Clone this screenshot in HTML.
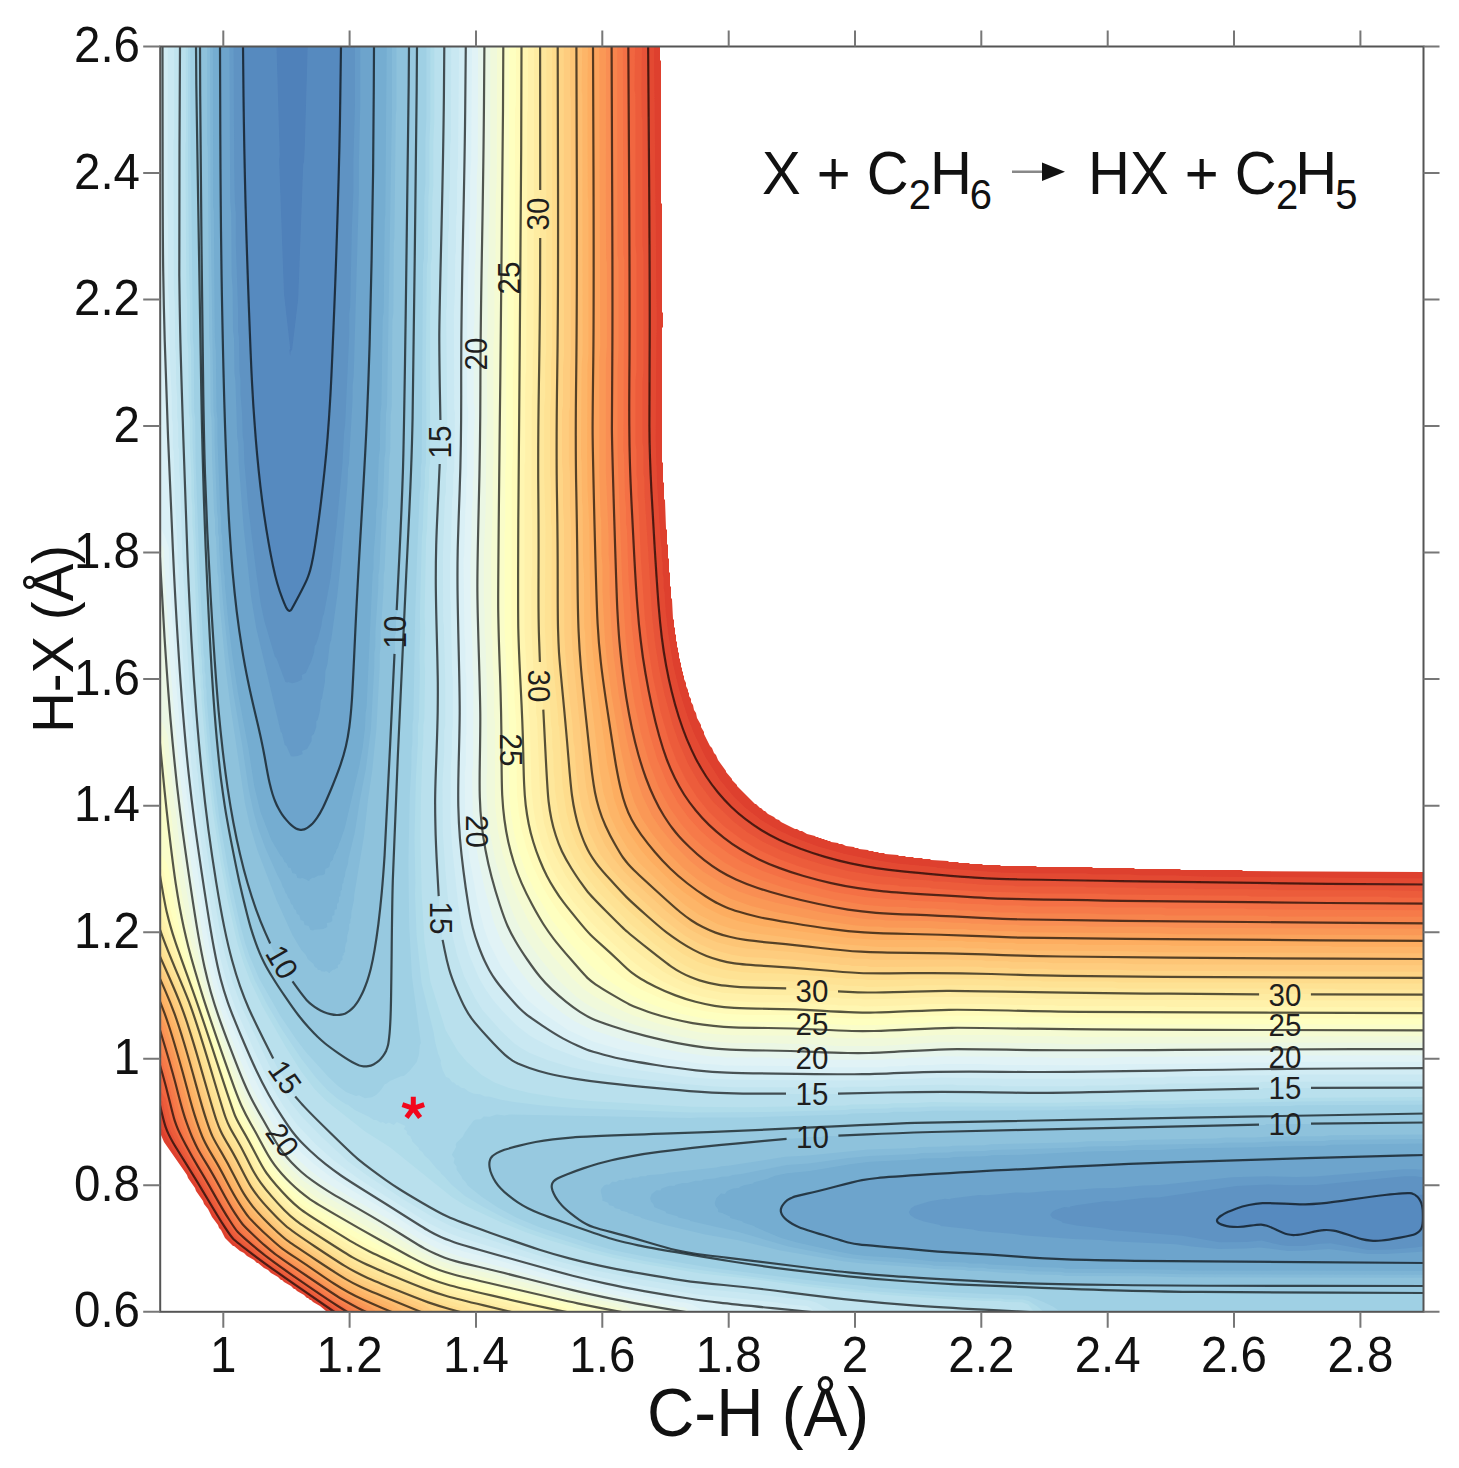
<!DOCTYPE html><html><head><meta charset="utf-8"><style>html,body{margin:0;padding:0;background:#fff;}svg{display:block;}text{font-family:"Liberation Sans",sans-serif;}</style></head><body>
<svg width="1459" height="1468" viewBox="0 0 1459 1468">
<rect width="1459" height="1468" fill="#fff"/>
<defs><clipPath id="pc"><rect x="160.2" y="46.5" width="1263.3" height="1265.3"/></clipPath></defs>
<filter id="bl" x="0" y="0" width="1" height="1"><feGaussianBlur stdDeviation="0.7"/></filter>
<g clip-path="url(#pc)"><g filter="url(#bl)">
<path fill="#416aaf" fill-rule="evenodd" d="M160 47H1426V1312H160z"/>
<path fill="#436fb1" fill-rule="evenodd" d="M161 47l1264 0l0 1264l-1265 0l0 -1264l1 0z"/>
<path fill="#4878b6" fill-rule="evenodd" d="M161 47l1264 0l0 1264l-1265 0l0 -1264l1 0z"/>
<path fill="#4f81ba" fill-rule="evenodd" d="M161 47l1264 0l0 1264l-1265 0l0 -1264l1 0z"/>
<path fill="#578abf" fill-rule="evenodd" d="M161 47l115.5 0l3.2 108l-0.6 5l4.9 134l6.2 55l-0.9 1l0.8 5.9l0.7 -4.9l1.3 -1l6.1 -51l5 -134l0.9 -4l0.7 -15l2.9 -99l1117.5 0l0 1264l-1265 0l0 -1264l1 0z"/>
<path fill="#5e93c3" fill-rule="evenodd" d="M161 47l82 0l0 64l1 1l0 56l1 1l0 39l1 1l0 34l1 1l0 30l1 1l0 28l1 1l0 26l1 1l0 23l1 1l0 20l1 1l0 17l1 1l0 15l1 1l0 14l1 1l0 12l1 1l0 11l1 1l0 10l1 1l0 9l1 1l0 8l1 1l0 8l1 1l1 15l1 1l0 6l1 1l0 6l1 1l0 6l1 1l0 5l1 1l1 11l1 1l0 4l1 1l0 5l1 1l0 4l1 1l0 4l1 1l0 3l1 1l0 4l1 1l0 3l1 1l1 7l1 1l0 2l1 1l2 8l2 3l0 2l5 9l2 0l3 -3l8 -17l2 -2l4 -8l0 -2l3 -6l0 -3l1 -1l0 -3l1 -1l0 -3l1 -1l0 -4l1 -1l0 -5l1 -1l0 -6l1 -1l0 -6l1 -1l0 -6l1 -1l0 -6l1 -1l0 -7l1 -1l0 -7l1 -1l0 -7l1 -1l0 -7l1 -1l0 -8l1 -1l0 -8l1 -1l0 -9l1 -1l1 -22l1 -1l0 -12l1 -1l0 -13l1 -1l0 -15l1 -1l0 -17l1 -1l0 -20l1 -1l0 -22l1 -1l0 -25l1 -1l0 -26l1 -1l1 -56l1 -1l0 -31l1 -1l0 -37l1 -1l0 -49l1 -1l0 -57l1084 0l0 1147.4l-7 0.6l-1 1l-5 -3l-13 0l-1 1l-9 0l-1 1l-8 0l-1 1l-6 0l-1 1l-14 1l-1 1l-12 1l-1 1l-6 0l-1 1l-6 0l-1 1l-8 0l-1 1l-16 0l-1 1l-2 0l-1 -1l-16 0l-1 -1l-28 0l-1 1l-5 0l-1 1l-3 0l-1 1l-3 0l-1 1l-8 2l-12 6l-4 4l0 3l2 2l4 1l1 1l4 0l1 1l17 0l1 -1l4 0l1 -1l6 0l1 -1l2 0l1 1l4 0l3 2l2 0l13 7l3 0l1 1l14 0l1 -1l3 0l1 -1l3 0l1 -1l3 0l1 -1l4 0l1 -1l14 0l4 2l3 0l1 1l5 1l3 2l2 0l1 1l2 0l4 2l8 1l1 1l16 0l1 -1l12 -1l1 -1l4 0l1 -1l9 -1l1 -1l4 -1l4 -4l4 0.2l0 80.8l-1265 0l0 -1264l1 0z"/>
<path fill="#659bc8" fill-rule="evenodd" d="M161 47l72.6 0l0.6 121l0.6 33l1 12l0 30l2.2 65l0 23l0.9 6l0.6 35l1 8l0 14l1.6 20l0.6 22l1 6l0.6 19l3.8 45l8.6 70l4.1 28l3.3 16l10.9 37l1.4 1l9 24l1.8 0.5l1 -0.5l4 1.3l4.8 -1.2l4.2 -2.2l1 -0.8l-0.4 -4l4 -2l5.4 -11.8l3 -9.2l0.4 -6l1.5 -2l2.1 -6l3.1 -12.2l1.3 -8.8l1.3 -3l6.7 -36l6.1 -53l5.8 -62l1.6 -31l1 -7l4.1 -90l0 -21l1 -8l1.6 -76l1.6 -38l0 -32l1.6 -56l0 -57l1070.4 0l0 1130.6l-10 -1.5l-11 0.1l-88 8.7l-25 0.3l-23 -0.8l-32 1.6l-78 11.4l-13 0.2l-32 3.8l-7 -0.4l-30 4.1l-6 1.3l-1 0.9l-5 -0.3l-9.1 3l-3.2 2l-1.9 3l2.3 3l9 3.5l1 1.2l14 2.7l27 3l10 1.8l69 5.5l37 6.5l27 -0.3l15 -1.4l19 4.5l8 1l15 -0l16 -2.3l11 -0.5l38 6.8l24 -0.5l23 -2.1l10 -1.8l0 65.3l-1265 0l0 -1264l1 0z"/>
<path fill="#6da4cc" fill-rule="evenodd" d="M161 47l68.4 0l0.8 155l1 12l0.4 61l1 14l0.4 42l1 7l0.4 35l1 8l1.8 56l1 6l0.5 20l4.8 63l7.6 71l5.1 31l24.6 104l1.1 1l2.8 12l1.7 1l4.5 10.2l2 0.3l5 -0.6l4.8 -1.9l-0.7 -3l5.1 -2l4.5 -8l0.1 -5l2.2 -2l2.4 -7l0 -6l1.4 -1l2.2 -9l1 -11l1 -1l3 -17l0.5 -11l2.1 -7l2.3 -20l1.4 -4l6 -44l3.7 -34l6.7 -80l0.4 -13l0.9 -5l3.7 -65l0.1 -14l1 -9l5.2 -183l0 -32l1.4 -57l0 -57l1064.6 0l0 1123l-9 -0.8l-13 0.1l-88 7.2l-19 0.5l-29 -0.8l-35 1.1l-72 7.8l-17 0.5l-28 2.4l-19 0.3l-24 1.9l-18 0.3l-26 2.2l-12 -0.2l-29 2.8l-8 -0.2l-28 3.4l-1 0.8l-5 -0.6l-15 2.5l-15 4.5l-3.6 2.3l-2.5 4l1.4 3l4.6 3.3l9 3.2l16 3.5l1 1l32 3.6l6 1.4l36 2.9l8 1.3l50 3.8l28 0.9l11 1.3l64 3l16 2.3l27 2.5l27 -0.5l14 -1l28 3.4l16 -0.1l25 -1.9l39 5.1l18 0l39 -2.6l0 59.4l-1265 0l0 -1264l1 0z"/>
<path fill="#74add1" fill-rule="evenodd" d="M161 47l59 0l0 160l1 1l0 81l1 1l0 48l1 1l0 38l1 1l0 33l1 1l0 29l1 1l0 27l1 1l0 23l1 1l0 20l1 1l0 17l1 1l0 14l1 1l0 12l1 1l1 22l1 1l0 9l1 1l0 8l1 1l1 16l1 1l0 6l1 1l1 13l1 1l1 12l1 1l1 10l1 1l0 4l1 1l0 5l1 1l0 3l1 1l0 4l1 1l0 4l1 1l0 3l1 1l0 4l1 1l0 3l1 1l0 3l1 1l0 3l1 1l0 3l1 1l0 3l1 1l0 3l1 1l0 3l1 1l0 3l1 1l0 4l1 1l0 3l1 1l1 10l1 1l0 4l1 1l1 12l1 1l0 4l1 1l0 4l1 1l0 4l1 1l1 7l1 1l2 8l2 3l0 2l2 4l2 2l1 3l2 2l0 1l5 5l0 1l1 0l5 5l4 2l6 0l4 -2l3 -3l1 0l0 -1l5 -5l0 -1l4 -5l4 -8l0 -2l4 -7l0 -2l2 -3l0 -2l3 -5l0 -2l4 -8l0 -2l1 -1l2 -8l2 -3l0 -3l2 -4l0 -3l1 -1l0 -3l1 -1l0 -4l1 -1l0 -5l1 -1l0 -5l1 -1l0 -8l1 -1l0 -11l1 -1l0 -15l1 -1l0 -19l1 -1l0 -23l1 -1l0 -23l1 -1l0 -19l1 -1l0 -17l1 -1l1 -33l1 -1l0 -15l1 -1l1 -30l1 -1l0 -16l1 -1l0 -16l1 -1l0 -17l1 -1l0 -20l1 -1l0 -22l1 -1l0 -26l1 -1l0 -30l1 -1l0 -37l1 -1l0 -43l1 -1l0 -52l1 -1l0 -75l1 -1l0 -92l1051 0l0 1108l-28 0l-1 1l-33 0l-1 1l-31 0l-1 1l-34 0l-1 1l-34 0l-1 1l-33 0l-1 1l-32 0l-1 1l-29 0l-1 1l-26 0l-1 1l-24 0l-1 1l-22 0l-1 1l-20 0l-1 1l-39 1l-1 1l-18 0l-1 1l-17 0l-1 1l-17 0l-1 1l-17 0l-1 1l-16 0l-1 1l-15 0l-1 1l-28 1l-1 1l-10 0l-1 1l-9 0l-1 1l-12 1l-1 1l-4 0l-1 1l-3 0l-1 1l-7 1l-4 2l-3 0l-1 1l-2 0l-4 2l-3 0l-1 1l-3 0l-1 1l-3 0l-1 1l-3 0l-1 1l-5 0l-1 1l-9 1l-1 1l-2 0l-6 3l-8.2 9l0.2 0.8l1 0.2l-1 1l1 1l0 3l1 2l9 8l6 3l2 0l3 2l3 0l1 1l2 0l4 2l3 0l1 1l2 0l1 1l2 0l1 1l2 0l1 1l2 0l1 1l2 0l1 1l2 0l4 2l3 0l4 2l8 1l1 1l5 0l1 1l8 0l1 1l13 0l1 1l12 0l1 1l19 1l1 1l18 1l1 1l13 0l1 1l21 0l1 1l19 0l1 1l13 0l1 1l24 1l1 1l14 0l1 1l21 0l1 1l38 0l1 1l76 0l1 1l177 0l1 1l65 0l0 48l-1265 0l0 -1264l1 0z"/>
<path fill="#7db4d5" fill-rule="evenodd" d="M161 47l51.8 0l0.4 160l0.6 4l1 127l1 13l0.7 60l1 8l0 22l2.7 70l1 7l0 14l0.9 4l1.7 36l0.9 4l0.1 8l3.4 37l3.9 32.9l5.7 38.1l10.7 57l5.9 38l6.1 25l10.8 28l9.5 16l1.5 1l2.2 5l1.9 1l1.9 4.6l2.3 0.4l1.8 5l3.7 1l1.3 4l2.9 0.5l2.2 -0.5l4.9 2l0.4 1l1.5 0l0.2 -1l2.8 -2.2l2 -0.1l4 -2.1l4 -0.4l2.5 -1.2l0.6 -5l3.9 -2l1.1 -5l2.4 -2l1.1 -5l1.7 -2l1.2 -4l1.2 -1l1.1 -5l0.9 -1l4.8 -14l14.5 -62l3.3 -18l2.4 -20l0.6 -15l1 -6l6 -133l0.9 -5l0 -12l2.6 -36l0.1 -11l0.9 -5l1.7 -48l1 -7l0.6 -37l1 -8l1.3 -86l1 -7l1 -92l0.6 -5l1.4 -168l1038.3 0l0 1096.4l-94 1.3l-6 1l-29 0l-40 1.6l-63 1l-34 1.6l-23 0l-11 0.9l-37 0.7l-66 3.2l-30 0.6l-7 1l-31 0.7l-5 0.9l-28 0.7l-5 0.9l-46 2.3l-20 2.4l-40 6.9l-23 2.1l-12 2.6l-8 3.1l-13 3.4l-1 1.2l-9 1.7l-4.2 1.7l-0.8 1.2l-6 0.3l-6 2.6l-2 2.9l-4 -0.4l-4.6 4.4l-1.7 5l0.7 3l2.7 3.4l0 2.6l4 1l8 3.6l0 1.4l12 3.4l1 1.3l11 3.4l1 1.1l26 10.8l16 4.5l38 8.7l17 3.2l14 1.6l34 2.2l35 3.5l30 1l4 0.9l15 0.1l5 0.9l36 1.7l5 0.9l31 0.7l5 1l111 1l5 0.6l243 0.6l0 39.7l-1265 0l0 -1264l1 0z"/>
<path fill="#85bbd9" fill-rule="evenodd" d="M161 47l49 -0l0.5 160l3 205l1 7l0 23l2.5 69l1 8l0 14l1 4l0 11l4.1 56l5 50l5.2 39l9 53l6.3 43l5.2 24l4.2 15l7.3 20l12 27l3.8 7l1.6 5l1.1 1l1.7 5l1.2 1l1.4 4l1.4 1l1.5 5l1.7 1l1.3 4l1.8 1l1.1 4l2.3 1l1.4 5l2.9 1l1.1 4l4.2 1l1.6 4l2.8 0.4l1 -0.7l9 -0.8l4.1 -1.9l-0.5 -4l3.4 -0.6l2.1 -1.4l-0.2 -5l2.3 -1l0.2 -5l2.4 -1l0 -5l1.8 -2l0.2 -5l1.4 -1l0.2 -5l1.3 -1l0.3 -6l1.1 -1l0.6 -5l1 -1l0.4 -5l2.6 -8l0.5 -5l6.3 -26l5.4 -34l5.9 -31l4.9 -39l3.4 -62l0.1 -14l0.9 -6l0.1 -15l2.9 -45l0.1 -12l1 -6l2.6 -58l0.9 -5l1.6 -48l1 -7l0.5 -37l1 -8l5 -297l0 -62l1033.5 0l0 1092l-95 1l-6 1l-53 0.5l-16 1l-29 0l-9 1l-81 1.5l-12 1l-36 0.5l-11 1l-86 2.5l-7 1l-30 0.5l-6 1l-27 0.5l-6 1l-46 2l-21 2.1l-40 5.4l-22 1.4l-45 9.1l-9 1l-4 1.5l-7 0.2l-7 1.9l-11 1l-2 1.2l-6 -0.1l-8 2.4l-5 -0.1l-7 1.7l-1 1.4l-5 -0.4l-3 1l-5 1.8l-1 2l-4 -0.3l-5 4l-1.3 4.1l0.7 3l2.5 2.9l1 3l11 4.2l1 1.8l11 3l1 1.3l11 2.5l1 1l49 11.2l49 14.3l56 11l21 2.6l64 4.6l5 1l30 1l5 1l14 0.1l5 0.9l36 1.6l5 1l31 0.5l5 1l79 0.5l38 1l243 0.5l0 36.5l-1265 0l0 -1264l1 0z"/>
<path fill="#8ec2dc" fill-rule="evenodd" d="M161 47l46.2 0l0 97l0.6 4l1.4 191l1 13l0.4 60l1 8l0.4 37l2 55l1 7l0.1 15l0.9 4l1.4 35l0.9 4l1.5 28l5.9 64l4.7 37l14.5 97l4.9 22l7.5 25l19.2 50l15.9 35l8.9 15l4.6 5l1.8 4l5.8 5l1.2 3l2.3 1l0.9 2l2.5 0l0.5 1.2l4 0.5l1 -0.6l2.3 0.9l0.4 1l1.3 0l0.2 -1l2.8 -2.2l2 -0.2l1 -1.2l2 -0.5l-0.1 -3l2.1 -0.8l0.8 -3.2l1.9 -1l-0.3 -4l1.4 -1l-0.1 -2l1.5 -1l-0.1 -4l0.7 -4l1.5 -3l0 -5l1.9 -7l0 -5l1.2 -1l0.1 -4l0.8 -1l0.2 -6l2.6 -12l0.2 -5l9.8 -59l4.1 -37l4.1 -28l4.2 -42l3.3 -62l0 -13l1 -7l0 -14l2.9 -45l0.1 -13l0.9 -5l2.4 -58l0.9 -5l1.4 -48l1 -8l0.4 -36l1 -8l0.7 -87l1 -7l0.4 -70l0.6 -5l1.4 -123l0.6 -5l0 -63l1028.7 0l0 1087.6l-95 0.7l-7 1l-53 0.4l-16 1l-29 0l-9 1l-81 1.4l-11 0.9l-37 0.4l-10 0.9l-86 2.1l-7 1l-31 0.4l-5 0.9l-28 0.4l-5 0.9l-47 1.7l-60 5.9l-23 1.3l-57 9l-7 0.4l-5 1.4l-48 5.1l-5 1.3l-16 1.3l-1 0.9l-6 0.1l-2 1.1l-6 0.3l-1 1l-6 0.1l-1 1.4l-5 -0.1l-3 1.9l-4 -0.2l-3 3l-3 -0.3l-2 0.9l-3 3.6l-0.4 2l1.9 8l-0.5 1.4l6 2.3l1 2.5l4 0.7l2 2.3l5 1l1 1.5l6 1.3l1 1.3l5 1l1 1.2l6 1.3l1 1.1l23 6.9l41 9.6l32 5.7l42 10.1l64 11.1l20 2.3l65 4.5l6 1l30 1l4 0.9l14 0.1l24 2l17 0.4l6 1l31 0.4l5 1l79 0.4l38 1l243 0.4l0 33.3l-1265 0l0 -1264l1 0z"/>
<path fill="#97c9e0" fill-rule="evenodd" d="M161 47l39 0l0 101l1 1l1 202l1 1l0 68l1 1l0 39l1 1l0 29l1 1l0 24l1 1l0 22l1 1l0 19l1 1l1 36l1 1l0 16l1 1l0 15l1 1l0 15l1 1l0 14l1 1l0 13l1 1l0 13l1 1l1 23l1 1l1 20l1 1l0 8l1 1l0 8l1 1l0 7l1 1l1 15l1 1l0 6l1 1l0 6l1 1l0 6l1 1l0 5l1 1l0 5l1 1l1 11l1 1l0 4l1 1l0 4l1 1l0 4l1 1l1 9l1 1l0 3l1 1l0 4l1 1l0 3l1 1l0 3l1 1l0 3l1 1l1 7l2 4l0 3l2 4l0 3l1 1l0 2l2 4l0 3l2 3l0 3l3 6l0 2l1 1l1 5l2 3l0 2l2 3l0 2l4 7l0 2l8 16l2 2l2 5l2 2l4 8l4 5l1 3l2 2l0 1l2 2l4 7l6 7l0 1l8 8l1 0l6 5l4 2l8 2l1 1l12 0l6 -3l8 -8l7 -13l0 -2l2 -3l0 -2l1 -1l0 -2l1 -1l0 -2l1 -1l0 -2l2 -4l0 -4l1 -1l1 -8l1 -1l0 -5l1 -1l0 -5l1 -1l0 -5l1 -1l0 -6l1 -1l0 -7l1 -1l0 -8l1 -1l0 -8l1 -1l0 -8l1 -1l0 -10l1 -1l1 -26l1 -1l0 -16l1 -1l0 -19l1 -1l0 -21l1 -1l0 -22l1 -1l0 -20l1 -1l0 -20l1 -1l0 -20l1 -1l0 -20l1 -1l1 -39l1 -1l0 -18l1 -1l0 -19l1 -1l0 -18l1 -1l0 -18l1 -1l0 -19l1 -1l0 -20l1 -1l0 -21l1 -1l0 -25l1 -1l0 -29l1 -1l0 -44l1 -1l0 -92l1 -1l0 -75l1 -1l0 -60l1 -1l0 -66l1 -1l0 -68l1016 0l0 1075l-1 1l-100 0l-1 1l-57 0l-1 1l-49 0l-1 1l-45 0l-1 1l-46 0l-1 1l-46 0l-1 1l-47 0l-1 1l-42 0l-1 1l-37 0l-1 1l-31 0l-1 1l-27 0l-1 1l-24 0l-1 1l-19 0l-1 1l-18 0l-1 1l-15 0l-1 1l-27 1l-1 1l-11 0l-1 1l-10 0l-1 1l-10 0l-1 1l-9 0l-1 1l-10 0l-1 1l-8 0l-1 1l-19 1l-1 1l-17 1l-1 1l-7 0l-1 1l-7 0l-1 1l-6 0l-1 1l-6 0l-1 1l-12 1l-1 1l-10 1l-1 1l-3 0l-1 1l-4 0l-1 1l-3 0l-1 1l-3 0l-1 1l-7 1l-1 1l-2 0l-1 1l-2 0l-1 1l-2 0l-1 1l-2 0l-1 1l-2 0l-1 1l-8 2l-3 2l-5 1l-3 2l-2 0l-4 2l-2 2l-1 0l-2 3l0 8l4 8l3 3l0 1l9 9l1 0l5 5l1 0l8 6l8 4l2 0l1 1l2 0l4 2l8 1l1 1l8 1l4 2l7 1l1 1l2 0l1 1l2 0l4 2l3 0l1 1l2 0l1 1l2 0l1 1l2 0l4 2l3 0l4 2l3 0l4 2l8 1l1 1l4 0l1 1l4 0l1 1l5 0l1 1l6 0l1 1l6 0l1 1l7 0l1 1l8 0l1 1l18 1l1 1l7 0l1 1l7 0l1 1l15 1l1 1l14 1l1 1l6 0l1 1l7 0l1 1l7 0l1 1l7 0l1 1l7 0l1 1l8 0l1 1l19 1l1 1l24 1l1 1l13 0l1 1l14 0l1 1l16 0l1 1l16 0l1 1l16 0l1 1l17 0l1 1l19 0l1 1l23 0l1 1l34 0l1 1l83 0l1 1l281 0l0 25l-1265 0l0 -1264l1 0z"/>
<path fill="#9fd0e4" fill-rule="evenodd" d="M161 47l35 0l0 62l1 1l0 59l1 1l1 100l1 1l0 67l1 1l0 75l1 1l0 47l1 1l0 33l1 1l0 27l1 1l0 24l1 1l0 22l1 1l0 20l1 1l0 20l1 1l1 38l1 1l0 17l1 1l0 15l1 1l0 14l1 1l0 12l1 1l1 23l1 1l0 9l1 1l0 8l1 1l0 8l1 1l1 16l1 1l1 13l1 1l0 5l1 1l0 6l1 1l1 11l1 1l0 4l1 1l0 5l1 1l0 4l1 1l0 5l1 1l0 4l1 1l1 9l1 1l0 3l1 1l1 9l1 1l0 3l1 1l0 4l1 1l0 3l1 1l0 3l1 1l0 4l1 1l0 3l1 1l0 3l1 1l0 3l1 1l0 3l1 1l1 7l1 1l1 6l2 4l0 3l1 1l1 5l2 3l1 5l2 3l0 2l3 5l0 2l2 4l2 2l3 7l4 5l1 3l2 2l0 1l2 2l0 1l2 2l0 1l2 2l0 1l2 2l0 1l2 2l0 1l2 2l4 7l6 7l0 1l10 11l0 1l11 11l1 0l11 10l1 0l3 3l1 0l11 8l3 1l4 3l2 0l4 2l3 0l1 1l3 0l1 -1l6 -1l2 -2l1 0l7 -7l3 -6l1 -6l1 -1l0 -5l1 -1l0 -15l1 -1l0 -50l1 -1l0 -82l1 -1l0 -30l1 -1l0 -23l1 -1l1 -42l1 -1l0 -22l1 -1l0 -23l1 -1l0 -23l1 -1l1 -46l1 -1l0 -21l1 -1l1 -40l1 -1l0 -18l1 -1l0 -18l1 -1l0 -18l1 -1l0 -18l1 -1l1 -42l1 -1l0 -26l1 -1l0 -34l1 -1l0 -70l1 -1l0 -97l1 -1l0 -65l1 -1l1 -145l1008 0l0 1066l-1 1l-70 0l-1 1l-57 0l-1 1l-53 0l-1 1l-52 0l-1 1l-56 0l-1 1l-65 0l-1 1l-63 0l-1 1l-45 0l-1 1l-33 0l-1 1l-26 0l-1 1l-22 0l-1 1l-39 1l-1 1l-38 1l-1 1l-19 0l-1 1l-22 0l-1 1l-24 0l-1 1l-26 0l-1 1l-29 0l-1 1l-29 0l-1 1l-29 0l-1 1l-23 0l-1 1l-14 0l-1 1l-10 0l-1 1l-7 0l-1 1l-6 0l-1 1l-5 0l-1 1l-4 0l-1 1l-4 0l-1 1l-7 1l-4 2l-3 0l-1 1l-3 0l-1 1l-5 1l-8 4l-3 3l-2 4l0 7l1 1l0 3l1 1l0 2l2 4l2 2l2 4l11 11l1 0l7 6l18 10l2 0l8 4l5 1l3 2l2 0l1 1l2 0l1 1l2 0l1 1l2 0l1 1l2 0l1 1l2 0l1 1l2 0l1 1l8 2l3 2l8 2l3 2l2 0l1 1l2 0l1 1l2 0l1 1l2 0l4 2l3 0l4 2l3 0l1 1l3 0l1 1l3 0l1 1l4 0l1 1l4 0l1 1l4 0l1 1l4 0l1 1l11 1l1 1l4 0l1 1l5 0l1 1l4 0l1 1l5 0l1 1l5 0l1 1l11 1l1 1l10 1l1 1l5 0l1 1l5 0l1 1l6 0l1 1l5 0l1 1l5 0l1 1l6 0l1 1l6 0l1 1l6 0l1 1l6 0l1 1l7 0l1 1l6 0l1 1l16 1l1 1l16 1l1 1l8 0l1 1l9 0l1 1l9 0l1 1l9 0l1 1l10 0l1 1l10 0l1 1l11 0l1 1l13 0l1 1l13 0l1 1l16 0l1 1l18 0l1 1l22 0l1 1l25 0l1 1l27 0l1 1l25 0l1 1l25 0l1 1l30 0l1 1l44 0l1 1l129 0l1 1l133 0l0 18l-1265 0l0 -1264l1 0z"/>
<path fill="#a8d6e8" fill-rule="evenodd" d="M161 47l29.3 0l0.3 122l0.6 4l1.6 165l1 10l0.4 64l1 6l0.4 44l4 110l4 82l0.9 5l0.1 12l1 4l0 11l1 5l0 8l5.1 59l7.7 61l9.8 56l10.5 48l5.4 20l4.4 13l9.6 22.6l21.3 37.4l15.5 23l10.1 13.2l22 24.3l10 9.5l8 6l9.9 4.1l3.1 -0.8l6 2.9l7 -1l4 -2.3l5 -4.8l3.9 -6l1 0l4 -3.1l11 -4.7l3 -0.4l5.6 -4.8l7.2 -9l2.2 -7l0.9 -10l1.1 -2l-8.9 -66l-2.8 -51l-0.8 -64l1.4 -67l1.6 -28l0.1 -16l0.9 -8l0.1 -19l0.9 -5l1.8 -106l1.9 -57l2.6 -62l1 -8l0.1 -19l0.9 -5l1.3 -198l1 -6l0.4 -61l1 -13l0 -44l1 -21l0 -72l998.3 0l0 1057l-5 0.6l-124 0.6l-5 0.6l-102 1.4l-20 1l-34 0l-8 1l-61 0.4l-5 0.6l-128 0.5l-16 1l-23 0l-5 0.9l-37 0.7l-5 1l-103 3.2l-46 -0.1l-7 0.6l-181 -3.5l-5 0.9l-8 -0.9l-7 2.1l-6 -0.1l-3 2.7l-5 0.1l-2.3 1.4l-8.7 12l-2 4l-6.2 6l-0.9 2l0.6 2l-4.4 8l2.8 3.7l-1 4.3l3 3.8l0 3.2l5 6.9l0.7 2.1l3.3 3.3l2.3 3.7l13.7 11l16.6 11l18.5 10l22.8 9.4l51.1 16.6l22.9 6.4l32 6.6l65 10.9l117 14.9l38 3.4l4 0.9l50 4l106 4.8l4 0.8l14 5.5l9.4 4.6l5.7 4l-899.1 0l0 -1264l1 0z"/>
<path fill="#b0dcea" fill-rule="evenodd" d="M161 47l27 0l0 122l1 101l1 30l0 39l1 10l0.5 63l1 7l0 23l1.5 35l0 20l0.9 9l0.1 19l6 129l0.9 6l0.1 12l0.9 4l0 11l0.9 4l0.1 9l5 58l6.6 54l8 50l7.1 37l9.1 39l5.8 19l9.1 23l12.3 24l14.7 25l19.9 30l14.3 18.5l11.5 12.5l10.6 9l7.9 5.3l2 0.5l7 5.2l14 6.8l5 3.3l2.5 -0.1l4.5 2.7l2 -0.6l3 1.8l3 -1.4l5 2.6l3 -3l8.7 3.9l-1.7 3.1l3 2l0.1 3l3.9 2.6l-0.1 1.4l1.5 2l-0.3 1l7 6.9l0 1.4l3.4 2.7l2.6 4l3.7 3l8.3 10l3.5 3l0.5 1.5l4 3.3l6.2 7.3l13.8 11.8l18 10.8l21.8 11.5l22.2 9.7l19 6.8l44 13.6l23 6.2l32 6.5l42 7.2l122 16l61 6.6l76 5.5l39 2l16 0l4 1l18 0.2l6 1.5l8.4 5.3l5.8 5l-883.1 0l0 -1264l1 0zM431 47l994 0l0 1053.5l-129 1l-236 5l-128 0l-16 1l-22 0l-6 1l-36 0.5l-6 1l-79 2l-76 0.5l-115 -4.5l-34 -2.6l-28 -3.4l-13 -2.2l-12 -3.2l-4 -0.2l-5 -2.2l-6 -0.5l-5 -2l-4.8 -3.5l-3.2 -0.5l-2.8 -2.5l-1.6 0l-2.6 -2.7l-1.9 -0.3l-3.1 -4.1l-3 -1.1l-3.3 -6.8l-2.1 -7l0.4 -2.5l-3 -7.5l-2.8 -11l-1.6 -10l-12 -49l-5 -48l-1.6 -41l0.4 -12l-0.9 -44l1.4 -60l2 -35l0 -18l1 -6l1 -48l-0.5 -16l0.9 -24l-0.4 -17l2 -77l0.9 -8l1.1 -35l0.9 -7l0.1 -18l1 -6l0.5 -36l-0.5 -66l1 -96l1 -6l0.5 -62l1 -12l0 -44l1 -22l0 -72l0.5 0z"/>
<path fill="#b9e0ed" fill-rule="evenodd" d="M161 47l24.7 0l0.4 93l-0.6 4l0 25l0.7 101l0.4 26l0.6 4l0 39l1 10l0.6 64l1 6l0 24l1.6 34l0 20l1 10l0 18l1 11l2.4 67l2.7 52l0.9 5l0.1 12l1 4l0 11l1 5l0 8l5 58l6.4 54l7.8 51l6.8 37l10.1 44l5.9 19l6.8 18l12 25l23.4 41l15.4 24.3l13 17.2l12 12.3l39 30.7l24.5 15.4l62.5 50.3l15 9.2l35 16.3l23 9.3l21 7.2l44 13.1l22 5.5l33 6.5l56 9.2l51 5.4l56 7.8l51 5.8l17 1.1l4 0.9l65 4.6l39 2l16 0l5 1l17 0.2l6 2.3l5.1 6.1l-873.1 0l0 -1264l1 0zM435 47l990 0l0 1050l-157 1.1l-5 0.6l-48 0.4l-47 1.6l-34 0l-8 1l-34 0l-32 1l-64 0.2l-65 -0.8l-15 1l-24 0.1l-4 0.9l-37 0.4l-6 1l-102 1.8l-52 -0.6l-101 -5.8l-29 -2.9l-31 -4.9l-21 -5.1l-15 -5.7l-12.2 -7.4l-14.8 -13l-9.2 -11l-12.2 -21l-15.1 -48l-6 -40l-2.8 -48l-1.2 -56l0.5 -42l1.4 -43l0.9 -9l0.1 -19l1 -6l0.7 -48l-0.6 -11l0.7 -30l-0.6 -15l1.5 -77l1 -9l1 -34l1 -8l0 -18l1 -6l0.1 -156l0.6 -5l0 -38l1 -5l0.6 -61l1 -13l0 -44l1 -22l0 -72l0.7 0z"/>
<path fill="#c1e4ef" fill-rule="evenodd" d="M161 47l19 0l0 93l-1 1l0 159l1 1l0 48l1 1l0 35l1 1l0 31l1 1l0 29l1 1l1 59l1 1l0 27l1 1l0 25l1 1l0 23l1 1l0 20l1 1l0 19l1 1l0 17l1 1l0 16l1 1l1 29l1 1l0 12l1 1l1 24l1 1l0 10l1 1l1 21l1 1l0 8l1 1l0 9l1 1l1 17l1 1l0 7l1 1l0 8l1 1l1 15l1 1l0 6l1 1l0 6l1 1l0 6l1 1l1 13l1 1l0 5l1 1l0 6l1 1l0 5l1 1l1 11l1 1l1 10l1 1l0 4l1 1l0 4l1 1l0 5l1 1l0 4l1 1l0 3l1 1l0 4l1 1l0 3l1 1l1 8l2 4l0 3l1 1l0 3l2 4l0 3l1 1l0 2l2 4l0 3l2 3l0 2l1 1l2 8l2 3l0 2l2 3l0 2l4 7l0 2l30 60l2 2l5 10l2 2l0 1l2 2l4 7l3 3l0 1l10 10l0 1l2 2l1 0l42 42l1 0l4 4l1 0l4 4l1 0l11 9l4 2l3 3l4 2l3 3l1 0l8 6l3 1l5 4l3 1l7 5l5 2l7 5l5 2l2 2l18 9l2 0l8 4l2 0l1 1l2 0l1 1l8 2l3 2l2 0l1 1l2 0l1 1l2 0l1 1l2 0l1 1l8 2l3 2l2 0l1 1l2 0l1 1l8 2l3 2l2 0l1 1l2 0l1 1l2 0l1 1l2 0l4 2l3 0l1 1l2 0l1 1l2 0l4 2l3 0l1 1l2 0l4 2l3 0l4 2l3 0l1 1l3 0l1 1l3 0l1 1l3 0l1 1l3 0l1 1l3 0l1 1l4 0l1 1l3 0l1 1l4 0l1 1l4 0l1 1l4 0l1 1l4 0l1 1l4 0l1 1l11 1l1 1l4 0l1 1l5 0l1 1l11 1l1 1l4 0l1 1l6 0l1 1l5 0l1 1l5 0l1 1l13 1l1 1l8 0l1 1l10 0l1 1l12 0l1 1l11 0l1 1l9 0l1 1l7 0l1 1l15 1l1 1l6 0l1 1l6 0l1 1l7 0l1 1l6 0l1 1l7 0l1 1l7 0l1 1l8 0l1 1l7 0l1 1l8 0l1 1l18 1l1 1l10 0l1 1l10 0l1 1l11 0l1 1l11 0l1 1l13 0l1 1l15 0l1 1l18 0l1 1l20 0l1 1l18 0l1 1l-840 0l0 -1264l1 0zM445 47l980 0l0 1041l-162 0l-1 1l-51 0l-1 1l-42 0l-1 1l-38 0l-1 1l-41 0l-1 1l-87 0l-1 -1l-44 0l-1 -1l-27 0l-1 1l-38 0l-1 1l-40 0l-1 1l-114 0l-1 -1l-22 0l-1 -1l-14 0l-1 -1l-11 0l-1 -1l-9 0l-1 -1l-9 0l-1 -1l-9 0l-1 -1l-9 0l-1 -1l-10 0l-1 -1l-8 0l-1 -1l-8 0l-1 -1l-8 0l-1 -1l-9 0l-1 -1l-6 0l-1 -1l-5 0l-1 -1l-5 0l-1 -1l-6 0l-1 -1l-10 -1l-1 -1l-3 0l-1 -1l-7 -1l-4 -2l-3 0l-1 -1l-2 0l-1 -1l-8 -2l-12 -6l-6 -5l-1 0l-18 -18l0 -1l-9 -9l0 -1l-6 -6l0 -1l-5 -6l-10 -20l0 -2l-3 -5l0 -2l-3 -5l0 -2l-2 -4l0 -3l-2 -4l0 -3l-1 -1l0 -3l-1 -1l0 -4l-1 -1l0 -3l-1 -1l0 -5l-1 -1l0 -5l-1 -1l0 -6l-1 -1l0 -8l-1 -1l0 -12l-1 -1l0 -16l-1 -1l0 -16l-1 -1l0 -17l-1 -1l0 -21l-1 -1l0 -55l1 -1l1 -52l1 -1l0 -65l-1 -1l0 -35l-1 -1l0 -90l1 -1l0 -21l1 -1l0 -18l1 -1l0 -21l1 -1l0 -103l-1 -1l0 -58l1 -1l0 -42l1 -1l0 -34l1 -1l0 -39l1 -1l0 -47l1 -1l0 -94l1 0z"/>
<path fill="#c9e8f2" fill-rule="evenodd" d="M161 47l13.2 0l0 90l-0.7 4l0.3 149l1 13l0.4 46l0.6 3l0.4 33l1 12l0 20l1 7l0.1 23l0.9 3l0 21l1 9l2.3 81l1 4l0.1 17l1 6l0 13l1 8l1.3 35l3 47l0.9 4l0.1 9l0.9 4l0.1 9l0.9 3l0.1 9l1 3l0 8l1 3l0 8l1 3l1 16l1 4l0 5l6.4 54l5 35l9.7 58l5.6 27l7.9 29l8.6 24l33.2 70l15.1 25l12.7 16l19.6 20l26.4 24.4l19 14l36 23.9l29 17.5l19 9.5l10 3.9l72 23.5l24 7.2l31 8l51 10.2l56 9.1l52 4.8l3 0.9l6 0.2l53 6.4l7 2l16.3 8.6l-672.3 0l0 -1264l1 0zM452 47l973 0l0 1034.5l-162 0.3l-4 0.7l-40 0l-12 1l-39 0l-4 1l-35 0l-12 1l-30 0l-4 0.7l-81 0l-4 -0.7l-41 -0.3l-4 -0.7l-62 1.3l-8 1l-37 0l-4 0.7l-108 -0.3l-23 -1l-27 -2.1l-60 -7.1l-28 -4.2l-25 -5.5l-23 -7l-18.2 -7.4l-8.8 -4.9l-7.2 -5.1l-12.7 -12l-18.6 -21l-7.5 -12l-11 -22l-7 -21l-4.9 -21l-2.4 -16l-4.2 -46l-2.7 -40l-0.3 -49l1.7 -30l0 -22l1 -5l0 -46l-1.3 -55l-0.7 -4l-0.3 -65l2 -59l1 -5l0 -18l1 -5l0.3 -54l-1 -104l0.7 -4l1.3 -74l0.7 -4l0.3 -36l0.7 -4l0.3 -44l0.7 -4l0.3 -94l0.8 0z"/>
<path fill="#d1ecf4" fill-rule="evenodd" d="M161 47l6.8 0l-0.3 168l0.7 4l0 72l1 14l1 61l1.6 32l0 20l1 7l0 23l1 4l1 46l2.7 48l0.1 17l0.9 3l0 17l1 6l0 13l5.7 91l0.9 4l1.1 22l0.9 3l0 8l1 3l0 8l1 3l0 8l1 3l0 6l3 28l9.8 74l8.2 52l7.5 40l7.4 29l8.4 24l19 43l13.8 29l14.6 25l14.6 20l18.5 19.6l17.4 15.4l24.6 18.2l26 16.9l44 27.6l20 10l15 5.5l81 24.7l50 13l49 9.8l54 8.8l80 8.1l11 1.9l19 1.5l3.9 2.1l2.3 3l-653.3 0l0 -1264l1 0zM459 47l966 0l0 1027.5l-133 0l-4 0.7l-70 0.3l-12 1l-39 0l-4 1l-35 0l-12 1l-35 0.3l-77 0l-64 -1.3l-32 1.7l-18 0l-8 1l-42 0.3l-104 -0.7l-31 -1.4l-19 -1.7l-60 -8.1l-27 -5.2l-17 -4.5l-29 -11l-18 -9.2l-6.4 -3.9l-11.6 -9l-13.8 -14l-10.4 -12l-7.6 -11l-6.3 -11l-9.4 -22l-5.4 -18l-2.8 -13l-3.3 -22l-5.8 -55l-1.7 -28l0.3 -54l1 -12l0.1 -22l0.9 -5l0 -49l-0.7 -4l-1.3 -71l-0.7 -4l0 -43l0.7 -4l1.3 -53l1 -5l0.1 -19l1 -4l0.7 -58l-0.7 -4l-0.3 -96l1 -21l0.3 -36l0.7 -4l0.3 -35l0.7 -4l0.3 -41l0.7 -4l1.2 -121z"/>
<path fill="#daf0f6" fill-rule="evenodd" d="M161 47l1 0l0 172l1 1l0 75l1 1l0 40l1 1l0 32l1 1l0 28l1 1l0 26l1 1l0 25l1 1l0 24l1 1l0 23l1 1l0 22l1 1l0 21l1 1l0 20l1 1l1 38l1 1l0 16l1 1l1 32l1 1l0 14l1 1l0 13l1 1l0 12l1 1l0 12l1 1l0 11l1 1l1 21l1 1l0 9l1 1l0 9l1 1l1 18l1 1l1 16l1 1l0 7l1 1l0 7l1 1l0 6l1 1l0 6l1 1l0 7l1 1l0 6l1 1l1 13l1 1l1 12l1 1l0 6l1 1l1 12l1 1l0 5l1 1l0 6l1 1l0 5l1 1l0 6l1 1l0 5l1 1l0 5l1 1l0 5l1 1l0 5l1 1l0 4l1 1l0 4l1 1l0 4l1 1l1 9l1 1l0 3l1 1l0 3l1 1l1 7l2 4l0 3l1 1l0 2l1 1l0 2l1 1l0 2l1 1l2 8l2 3l1 5l2 3l0 2l3 5l0 2l2 3l0 2l4 7l0 2l3 5l0 2l3 5l0 2l4 7l0 2l5 9l0 2l3 6l2 2l9 18l2 2l4 8l2 2l0 1l2 2l0 1l2 2l4 7l7 8l0 1l8 8l0 1l15 14l1 0l4 4l1 0l4 4l1 0l7 6l1 0l14 10l3 1l10 7l8 4l5 4l8 4l2 2l1 0l5 4l3 1l2 2l1 0l11 8l3 1l8 6l10 5l2 2l4 1l9 5l2 0l3 2l2 0l1 1l2 0l4 2l3 0l4 2l3 0l1 1l7 1l4 2l7 1l4 2l3 0l4 2l3 0l4 2l3 0l4 2l3 0l1 1l2 0l4 2l3 0l4 2l3 0l1 1l6 1l4 2l3 0l4 2l3 0l1 1l3 0l1 1l3 0l1 1l7 1l4 2l3 0l1 1l3 0l1 1l4 0l1 1l3 0l1 1l3 0l1 1l3 0l1 1l9 1l1 1l3 0l1 1l4 0l1 1l4 0l1 1l4 0l1 1l5 0l1 1l4 0l1 1l5 0l1 1l4 0l1 1l5 0l1 1l5 0l1 1l5 0l1 1l11 1l1 1l6 0l1 1l6 0l1 1l13 1l1 1l16 1l1 1l9 0l1 1l9 0l1 1l9 0l1 1l9 0l1 1l9 0l1 1l9 0l1 1l9 0l1 1l-636 0l0 -1264l1 0zM467 47l958 0l0 1021l-137 0l-1 1l-72 0l-1 1l-51 0l-1 1l-45 0l-1 1l-135 0l-1 -1l-44 0l-1 1l-26 0l-1 1l-21 0l-1 1l-94 0l-1 -1l-70 0l-1 -1l-13 0l-1 -1l-10 0l-1 -1l-8 0l-1 -1l-7 0l-1 -1l-13 -1l-1 -1l-5 0l-1 -1l-5 0l-1 -1l-5 0l-1 -1l-5 0l-1 -1l-5 0l-1 -1l-5 0l-1 -1l-9 -1l-1 -1l-3 0l-1 -1l-3 0l-1 -1l-3 0l-1 -1l-7 -1l-1 -1l-2 0l-4 -2l-3 0l-14 -7l-2 0l-10 -5l-7 -5l-3 -1l-2 -2l-1 0l-2 -2l-1 0l-2 -2l-1 0l-2 -2l-1 0l-2 -2l-7 -4l-3 -3l-1 0l-12 -11l0 -1l-7 -7l0 -1l-10 -11l0 -1l-3 -3l0 -1l-6 -8l-8 -16l0 -2l-4 -8l0 -2l-1 -1l0 -2l-1 -1l0 -2l-1 -1l0 -2l-2 -4l0 -3l-1 -1l0 -3l-1 -1l0 -4l-1 -1l0 -5l-1 -1l-1 -11l-1 -1l0 -6l-1 -1l0 -6l-1 -1l-1 -13l-1 -1l-1 -16l-1 -1l0 -8l-1 -1l0 -11l-1 -1l0 -15l-1 -1l0 -52l1 -1l0 -31l1 -1l0 -59l-1 -1l0 -34l-1 -1l0 -39l-1 -1l0 -42l1 -1l0 -32l1 -1l1 -46l1 -1l0 -43l1 -1l0 -22l-1 -1l0 -111l1 -1l0 -40l1 -1l0 -37l1 -1l0 -44l1 -1l0 -66l1 -1l0 -58l1 0z"/>
<path fill="#e1f3f6" fill-rule="evenodd" d="M472 47l953 0l0 1014.8l-137 0l-4 0.7l-57 0l-16 1l-94 0.7l-15 1l-102 -0.3l-20 -1l-36 0l-12 1l-24 0.4l-4 0.9l-14 0.1l-7 1l-53 0l-35 -0.7l-4 -0.7l-67 -0.3l-5 -0.9l-20 -1.2l-37 -5.5l-40 -8l-30 -8.8l-24 -11.2l-24.5 -16.7l-16.5 -13.8l-13.1 -15.2l-12.9 -18.1l-12 -23.9l-5 -14l-6.2 -25l-7.8 -42l-2.4 -18l-1.5 -23l-1 -5l-0.3 -43l1 -7l0 -28l0.7 -4l0 -55l-1 -8l0 -22l-1 -13l-1 -76l0.7 -4l1.1 -46l0.9 -10l0.1 -20l0.9 -4l0 -40l1 -18l-0.1 -9l-0.9 -5l0 -76l1 -58l1 -14l0 -33l1 -5l0 -41l1 -15l0.8 -114zM160.5 527l4.5 9.4l3.8 11.6l1.1 36l1 5l0 12l1 7l0 10l1 7l3.3 59l5.1 61l6 56l17 118l9 49l6 23l6.3 19l23.2 57l14.5 30l19.9 33l7.3 10l10.7 12.4l13 11.9l14 10.7l19.8 13l45.2 27.1l25 16.3l12 7.1l14 6.5l21 7l22 5.3l57 16.1l38 9.8l46 10l52 9l5 0.2l7 2.2l11.5 6.6l-543.5 0l0 -784.6l0.5 0.6z"/>
<path fill="#e6f5ed" fill-rule="evenodd" d="M479 47l946 0l0 1008.2l-199 0.3l-16 1l-94 0.4l-14 1l-51 0l-4 -0.7l-105 -1l-36 1.8l-3 0.8l-14 0l-8 1l-51 0l-25 -1.3l-31 -0.3l-4 -0.7l-44 0l-6 -1l-8 0l-30 -3.9l-24 -4.6l-33 -7.5l-32 -10.3l-18 -8.6l-12 -8.2l-15.8 -12.5l-15.6 -15l-13.3 -17l-10.3 -15.8l-8 -15.2l-5.9 -15l-9.6 -35l-6.2 -29l-2.8 -18l-2.7 -27l-0.7 -42l1 -6l0.3 -90l-1 -7l0 -22l-1.7 -38l-0.3 -48l1 -18l0.3 -32l1 -11l0 -19l1 -5l0 -40l1 -18l-0.1 -11l-0.9 -4l0 -76l0.7 -4l0.3 -53l1 -14l0 -33l1 -5l0 -41l1 -15l0.3 -115l0.8 0zM161 544.8l2.1 2.2l1.1 3l0 16l1 4l0 15l1 5l0 12l1 7l0 10l1 7l2 39l9 105l12 94l14 87l3.8 18l8.1 30l9.1 26l11.5 29l13.5 32l7.2 14l22.4 38l6.5 9l11.3 13l11.6 10.5l14 10.4l18 11.4l47 27.3l31 19.9l19 9.9l24 8.2l24 5.6l89 23.6l61 13l42 7.1l5 0.2l3 1.8l1.8 2.3l-528.8 0l0 -766.8l1 0.6z"/>
<path fill="#ebf7e4" fill-rule="evenodd" d="M485 47l940 0l0 1002l-203 0l-1 1l-119 0l-1 1l-100 -1l-1 -1l-62 0l-1 1l-19 0l-1 1l-14 0l-1 1l-17 0l-1 1l-54 0l-1 -1l-20 0l-1 -1l-33 0l-1 -1l-49 0l-1 -1l-12 0l-1 -1l-8 0l-1 -1l-6 0l-1 -1l-5 0l-1 -1l-5 0l-1 -1l-4 0l-1 -1l-9 -1l-1 -1l-3 0l-1 -1l-3 0l-1 -1l-4 0l-1 -1l-3 0l-1 -1l-3 0l-1 -1l-3 0l-1 -1l-7 -1l-4 -2l-7 -1l-3 -2l-3 0l-3 -2l-2 0l-1 -1l-2 0l-1 -1l-2 0l-1 -1l-8 -2l-3 -2l-2 0l-8 -4l-2 -2l-3 -1l-2 -2l-4 -2l-8 -7l-1 0l-5 -5l-1 0l-15 -14l0 -1l-6 -6l0 -1l-9 -11l0 -1l-12 -17l-1 -3l-5 -7l-5 -10l0 -2l-2 -3l0 -2l-2 -3l0 -3l-2 -3l0 -2l-2 -4l0 -3l-1 -1l0 -2l-1 -1l0 -2l-1 -1l0 -2l-2 -4l-1 -7l-2 -4l0 -3l-1 -1l0 -3l-1 -1l0 -3l-1 -1l0 -4l-1 -1l-1 -8l-1 -1l0 -5l-1 -1l0 -5l-1 -1l-1 -14l-1 -1l0 -9l-1 -1l0 -20l-1 -1l0 -20l1 -1l0 -100l-1 -1l0 -27l-1 -1l0 -34l-1 -1l0 -60l1 -1l0 -35l1 -1l0 -29l1 -1l0 -58l1 -1l0 -18l-1 -1l0 -75l1 -1l0 -57l1 -1l0 -46l1 -1l0 -55l1 -1l0 -119l1 0zM161 570l0 17l1 1l0 17l1 1l0 16l1 1l0 15l1 1l1 29l1 1l0 13l1 1l1 25l1 1l0 11l1 1l0 10l1 1l0 10l1 1l0 10l1 1l0 9l1 1l0 8l1 1l0 9l1 1l0 8l1 1l0 7l1 1l0 7l1 1l0 7l1 1l1 15l1 1l0 6l1 1l0 6l1 1l0 6l1 1l0 6l1 1l0 6l1 1l0 6l1 1l1 13l1 1l1 12l1 1l0 5l1 1l0 6l1 1l0 5l1 1l0 6l1 1l0 4l1 1l0 5l1 1l0 5l1 1l0 4l1 1l0 4l1 1l0 4l1 1l1 9l1 1l0 3l1 1l0 3l1 1l0 3l1 1l1 7l2 4l0 3l1 1l0 2l2 4l0 3l1 1l2 8l2 3l0 2l1 1l1 5l2 3l2 8l4 8l1 5l4 8l1 5l2 3l0 2l2 3l0 2l2 3l0 2l2 3l0 2l4 7l0 2l7 14l2 2l2 5l2 2l2 5l2 2l2 5l2 2l3 7l2 2l2 5l2 2l4 7l4 4l0 1l4 4l0 1l9 9l1 0l6 6l1 0l7 6l1 0l11 8l3 1l2 2l8 4l2 2l5 2l2 2l5 2l2 2l14 7l2 2l5 2l2 2l8 4l5 4l3 1l2 2l1 0l5 4l3 1l2 2l1 0l5 4l3 1l2 2l24 12l2 0l1 1l2 0l1 1l2 0l4 2l3 0l4 2l4 0l1 1l3 0l1 1l3 0l1 1l3 0l1 1l4 0l1 1l3 0l1 1l4 0l4 2l4 0l1 1l3 0l4 2l3 0l1 1l3 0l1 1l3 0l1 1l3 0l1 1l3 0l1 1l3 0l1 1l7 1l4 2l8 1l4 2l3 0l1 1l3 0l1 1l4 0l1 1l3 0l1 1l3 0l1 1l3 0l1 1l3 0l1 1l4 0l1 1l3 0l1 1l3 0l1 1l4 0l1 1l3 0l1 1l4 0l1 1l4 0l1 1l4 0l1 1l4 0l1 1l4 0l1 1l5 0l1 1l4 0l1 1l5 0l1 1l4 0l1 1l5 0l1 1l6 0l1 1l11 1l1 1l-516 0l0 -742l1 1z"/>
<path fill="#f0f9db" fill-rule="evenodd" d="M491 47l934 0l0 995.8l-203 0l-4 0.7l-116 0l-4 0.7l-28 0l-19 -1l-47 -0.3l-4 -0.7l-62 0l-57 3.7l-44 0l-29 -2l-30 -0.3l-4 -0.7l-41 -0l-18 -1.1l-16 -1.9l-27 -5l-33 -8.6l-17 -5.7l-24.7 -10.5l-11.3 -6.4l-10 -7.1l-19.9 -18.5l-16.1 -19.5l-12.2 -17.5l-8.4 -14l-6.5 -14l-10.4 -28l-6.6 -23l-5.4 -26l-3 -25l-1 -21l0 -14l0.7 -4l-0.3 -81l-1.3 -47l-1 -10l0 -25l-0.7 -4l0 -54l1.7 -40l1 -85l0.7 -4l-0.7 -77l1 -18l0 -54l1 -10l0 -37l0.7 -4l0.3 -52l0.7 -4l0 -119l0.8 0zM160.2 720l2.9 4l4.7 12l7.1 72l0.8 2l2.2 22l8 56l9.7 56l11 45l12 37l25.6 67l6.7 13.9l20.7 37.1l5.7 9l7.7 10l16.9 16.7l20 14.3l56 32.1l44 26.5l18 8.3l19 5.9l29 6.3l72 18.2l43 9.7l18 3.2l5 1.8l7.8 5l-473.8 0l0 -591.5l0.2 0.5z"/>
<path fill="#f5fbd2" fill-rule="evenodd" d="M497 47l928 0l0 989.2l-355 0.7l-4 -0.7l-49 -0.3l-16 -1l-63 -0l-46 3l-55 0.3l-5 -0.9l-14 -0.1l-23 -1.6l-61 -0.3l-17 -1l-18 -2.1l-26 -4.9l-16 -4.1l-24 -7.7l-17 -7.5l-21 -11.2l-10.1 -6.7l-12.8 -12l-19.5 -22l-14.2 -19l-9.4 -15l-10.5 -22l-7.4 -18l-8.5 -28l-4.8 -24l-2.9 -26l0 -83l-0.7 -4l0 -28l-1.7 -28l0 -19l-1 -9l-0.3 -80l1.3 -41l0.3 -45l0.7 -4l0 -118l1 -17l0 -54l1 -10l0.3 -72l0.7 -4l0.3 -22l0.2 -119zM161 735l2 2l0.7 2l6.5 70l0.8 2l2.3 23l7.2 52l8.4 47l11.2 45l15.6 49l25.1 68l10.2 20.8l18.9 34.2l11.1 15.8l4 4.8l14.9 14.4l19.1 13.9l84 48.7l17 9.4l15 6.9l17 6l37 8.4l47 11.9l45 10.4l39 7.5l3.3 3.1l-463.3 0l0 -576.5l1 0.5z"/>
<path fill="#fafdc9" fill-rule="evenodd" d="M504 47l921 0l0 983l-355 0l-1 -1l-52 0l-1 -1l-88 0l-1 1l-17 0l-1 1l-17 0l-1 1l-53 0l-1 -1l-38 -1l-1 -1l-63 0l-1 -1l-15 0l-1 -1l-9 0l-1 -1l-7 0l-1 -1l-5 0l-1 -1l-5 0l-1 -1l-9 -1l-1 -1l-3 0l-1 -1l-3 0l-1 -1l-7 -1l-1 -1l-2 0l-1 -1l-2 0l-1 -1l-2 0l-1 -1l-2 0l-1 -1l-8 -2l-3 -2l-2 0l-18 -9l-5 -4l-5 -2l-5 -4l-8 -4l-3 -3l-1 0l-13 -13l0 -1l-5 -5l0 -1l-19 -21l0 -1l-6 -7l-2 -4l-3 -3l-1 -3l-5 -7l-3 -7l-2 -2l-11 -22l0 -2l-4 -7l0 -2l-1 -1l0 -2l-1 -1l0 -2l-1 -1l0 -2l-1 -1l0 -2l-2 -4l0 -3l-2 -4l-1 -7l-1 -1l0 -4l-1 -1l0 -3l-1 -1l0 -5l-1 -1l0 -5l-1 -1l0 -7l-1 -1l0 -11l-1 -1l0 -85l-1 -1l0 -31l-1 -1l0 -22l-1 -1l0 -27l-1 -1l0 -104l1 -1l0 -60l1 -1l0 -121l1 -1l0 -76l1 -1l0 -76l1 -1l0 -144l1 0zM161 752l0 9l1 1l0 10l1 1l0 9l1 1l1 19l1 1l1 18l1 1l0 7l1 1l0 8l1 1l0 7l1 1l0 7l1 1l0 6l1 1l1 14l1 1l1 12l1 1l0 5l1 1l0 5l1 1l0 4l1 1l0 5l1 1l1 9l1 1l0 3l1 1l0 4l1 1l1 8l1 1l1 7l2 4l1 7l2 4l0 3l1 1l1 6l1 1l0 2l2 4l0 3l1 1l0 2l1 1l0 2l2 4l0 3l1 1l0 2l1 1l0 2l1 1l0 2l1 1l0 2l1 1l0 2l1 1l0 2l1 1l0 2l1 1l0 2l1 1l0 2l1 1l0 2l1 1l2 8l2 3l0 2l1 1l0 2l1 1l2 8l2 3l0 2l1 1l0 2l1 1l0 2l1 1l0 2l1 1l2 8l2 3l0 2l1 1l2 8l2 3l0 2l2 3l1 5l9 18l2 2l6 12l2 2l7 15l2 2l2 5l2 2l2 4l3 3l0 1l5 5l0 1l15 15l1 0l5 5l1 0l3 3l1 0l3 3l1 0l5 4l10 5l2 2l5 2l2 2l10 5l2 2l10 5l2 2l7 3l2 2l7 3l2 2l7 3l2 2l16 8l2 2l26 13l2 0l3 2l2 0l3 2l2 0l4 2l3 0l1 1l6 1l1 1l3 0l1 1l4 0l1 1l8 1l1 1l3 0l1 1l4 0l1 1l3 0l1 1l3 0l1 1l4 0l1 1l3 0l1 1l3 0l1 1l3 0l1 1l3 0l1 1l3 0l1 1l3 0l1 1l3 0l1 1l3 0l1 1l4 0l1 1l3 0l1 1l3 0l1 1l4 0l1 1l8 1l1 1l3 0l1 1l4 0l1 1l3 0l1 1l4 0l1 1l3 0l1 1l4 0l1 1l4 0l1 1l4 0l1 1l4 0l1 1l4 0l1 1l4 0l1 1l5 0l1 1l-454 0l0 -560l1 1z"/>
<path fill="#feffc0" fill-rule="evenodd" d="M510 47l915 0l0 977.5l-352 -0.3l-4 -0.7l-49 -0.3l-13 -1l-78 0l-5 1l-14 0l-4 1l-14 0l-9 0.9l-26 0.1l-35 -1.3l-7 -1l-13 -0l-4 -1l-49 -0l-27 -1.3l-18 -2l-22 -4.5l-19 -5.6l-18 -6.8l-13 -6.2l-18 -11.2l-12.9 -9.2l-12.1 -11.2l-19.1 -20.8l-17.3 -22l-16.8 -28l-9.6 -20l-7.5 -22l-5.1 -20l-3 -20l-1.3 -17l-0.4 -69l-4.3 -95l0 -98l0.7 -4l0 -57l1 -15l0 -85l0.3 -22l0.7 -4l0.3 -73l0.7 -4l1 -221l0.8 0zM160.2 852l6.8 12l2.4 8l4.5 30l4.3 21l6.8 26l15.3 48l31.5 93l4.8 13l8.6 18l10.6 18l10.8 21l11.7 16l15.3 16l5.7 5l14.7 10.7l60.7 35.3l43.3 22.4l21 8.7l21 6.1l21 4.2l43 10.8l42 9l5 1.8l7.5 5l-418.5 0l0 -459.5l0.2 0.5z"/>
<path fill="#fffbb9" fill-rule="evenodd" d="M516 47l909 0l0 971.5l-260 0l-4 -0.7l-107 -0.3l-4 -0.7l-29 0l-13 -1l-80 0l-5 1l-14 0l-4 1l-48 1l-34 -1.7l-7 -1l-13 0l-4 -1l-49 -0l-23 -1.1l-22 -2.7l-21 -4.8l-24 -8.4l-19 -8.6l-15 -9.1l-15 -11.9l-32 -30.9l-19 -23.6l-11 -16.2l-5.3 -9l-10.7 -22.1l-6.4 -17.9l-5 -19l-2.7 -16l-2 -20l-0.7 -70l-1.7 -25l0 -12l-1 -7l-2 -52l0.3 -156l1 -15l0 -86l0.7 -4l0.3 -70l0.7 -4l0.3 -25l0.3 -159l0.7 -4l0.2 -58zM160.4 868l2.6 2.3l1.4 2.7l0.1 4l4.8 27l4.6 20l7.5 26l17.2 49l35.2 106l8.4 18l10.6 18l11.8 23l5.2 8l8.3 10l18 18.3l20 14.5l50 29.5l50 24.8l17 7.1l16 5.3l75 18l41 8.5l3.3 3.1l-408.3 0l0.4 -443z"/>
<path fill="#fff6b1" fill-rule="evenodd" d="M523 47l902 0l0 966l-260 0l-1 -1l-109 0l-1 -1l-41 0l-1 -1l-87 0l-1 1l-18 0l-1 1l-47 1l-1 -1l-21 0l-1 -1l-14 0l-1 -1l-16 0l-1 -1l-53 0l-1 -1l-20 0l-1 -1l-9 0l-1 -1l-6 0l-1 -1l-9 -1l-1 -1l-3 0l-1 -1l-3 0l-4 -2l-3 0l-1 -1l-5 -1l-3 -2l-2 0l-8 -4l-2 0l-5 -3l-2 0l-8 -4l-2 -2l-5 -2l-2 -2l-6 -3l-8 -7l-1 0l-22 -22l-1 0l-6 -6l-1 0l-13 -13l0 -1l-5 -5l0 -1l-4 -4l0 -1l-4 -4l0 -1l-5 -5l0 -1l-6 -7l0 -1l-8 -11l-12 -24l0 -2l-2 -3l0 -2l-2 -3l0 -2l-2 -4l0 -3l-1 -1l0 -2l-2 -4l0 -3l-1 -1l0 -3l-1 -1l0 -4l-1 -1l0 -4l-1 -1l0 -5l-1 -1l0 -7l-1 -1l0 -11l-1 -1l0 -27l-1 -1l0 -44l-1 -1l0 -19l-1 -1l-1 -34l-1 -1l0 -22l-1 -1l0 -179l1 -1l0 -89l1 -1l0 -73l1 -1l0 -187l1 -1l0 -62l1 0zM161 881l0 5l1 1l0 5l1 1l0 4l1 1l1 9l1 1l0 3l1 1l0 3l1 1l0 3l1 1l1 7l1 1l0 2l1 1l0 2l2 4l0 3l3 6l0 2l1 1l0 2l1 1l2 8l2 3l0 2l3 6l1 5l2 3l1 5l2 3l1 5l2 3l0 2l1 1l0 2l1 1l0 2l1 1l2 8l2 3l0 3l2 3l0 3l1 1l0 2l1 1l0 2l1 1l0 2l1 1l0 2l1 1l0 2l1 1l0 2l1 1l0 2l1 1l0 2l1 1l0 2l1 1l0 2l1 1l0 2l1 1l0 2l1 1l0 2l2 4l0 3l1 1l0 2l1 1l0 2l1 1l0 2l1 1l0 2l1 1l0 2l1 1l0 2l2 4l0 3l1 1l0 2l1 1l0 2l1 1l2 8l2 3l0 2l5 10l2 2l5 10l2 2l13 27l2 2l4 7l4 4l0 1l4 4l0 1l9 9l0 1l8 8l1 0l6 6l1 0l7 6l6 3l2 2l3 1l2 2l5 2l5 4l3 1l8 6l3 1l2 2l3 1l7 5l32 16l2 0l11 6l2 0l18 9l2 0l3 2l5 1l3 2l2 0l1 1l2 0l4 2l3 0l4 2l3 0l1 1l3 0l1 1l3 0l1 1l3 0l1 1l4 0l1 1l3 0l1 1l4 0l1 1l3 0l1 1l3 0l1 1l3 0l1 1l4 0l1 1l3 0l1 1l3 0l1 1l3 0l1 1l3 0l1 1l3 0l1 1l4 0l1 1l8 1l1 1l3 0l1 1l4 0l1 1l4 0l1 1l3 0l1 1l9 1l1 1l-399 0l0 -431l1 1z"/>
<path fill="#fff1aa" fill-rule="evenodd" d="M528 47l897 0l0 960.2l-257 -0.3l-4 -0.7l-106 -0.3l-4 -0.7l-38 -0.3l-22 -1l-69 0l-23 1.7l-38 1l-7 -1l-18 -0l-3 -0.9l-12 -0.1l-3 -0.9l-11 -0.1l-7 -1l-50 -0.3l-31 -2l-17 -3l-18 -5.1l-12.4 -5l-17.6 -8.8l-14 -9l-11.9 -9.2l-30.1 -27.6l-13.9 -14.4l-13.5 -16l-14.1 -20l-7.4 -13l-4.6 -10l-6.2 -16l-5 -18l-2.8 -16l-2 -20l-1.7 -69l-0.9 -4l-4.4 -87l0 -164l0.7 -4l0 -64l0.3 -22l0.7 -4l0.3 -70l0.7 -4l0 -184l0.7 -4l0.2 -62zM160.2 915l4.7 7l1.7 4l5.6 18l21.5 55l8 23l23.9 77l6.7 19l12.6 22l14 28l9.7 14l13 15l8.4 8.7l18 14.1l46 28.5l28 14l38 16.8l16 6l29 8l45 10.4l9 3.6l5 3.9l-364 0l0.2 -396z"/>
<path fill="#feeca2" fill-rule="evenodd" d="M535 47l890 0l0 953.8l-312 -1l-4 -0.7l-72 -0.3l-4 -0.7l-34 -0.3l-4 -0.7l-71 0l-9 1l-51 1.3l-4 -0.9l-19 -0.1l-4 -1l-11 -0l-4 -1l-11 -0.1l-6 -0.9l-51 -0.7l-31 -2l-17 -3.1l-17 -5l-13 -5.9l-13 -7.3l-14 -9.8l-19.4 -15.7l-16.6 -14.9l-18.1 -18.1l-8.9 -9.6l-11.3 -14.4l-9.5 -14l-12 -23l-4.2 -11l-5 -18l-4.1 -29l-2.8 -76l-0.9 -4l0 -11l-2.6 -30l-2.1 -44l0 -51l0.7 -4l0 -63l-0.7 -4l0.3 -110l0.7 -4l0.3 -42l0.7 -4l0.7 -300l0.8 0zM160.6 925l2.1 2l10.3 29l13.9 33l6.7 18l17.3 53l11.7 40l6.4 19l19.4 35l8.7 18l8.2 12l17.3 20l14.3 13l9.9 7l42.8 27l21.2 11.1l39 17.1l27 10.4l28 7.6l45 10.5l2.2 1.3l1.4 2l-353.6 0l0 -386.3l0.6 0.3z"/>
<path fill="#fee79b" fill-rule="evenodd" d="M541 47l884 0l0 948l-90 0l-1 -1l-220 0l-1 -1l-75 0l-1 -1l-38 0l-1 -1l-82 0l-1 1l-29 0l-1 1l-21 0l-1 -1l-21 0l-1 -1l-14 0l-1 -1l-13 0l-1 -1l-18 0l-1 -1l-46 0l-1 -1l-14 0l-1 -1l-8 0l-1 -1l-5 0l-1 -1l-9 -1l-1 -1l-2 0l-4 -2l-3 0l-3 -2l-2 0l-3 -2l-2 0l-6 -3l-5 -4l-6 -3l-3 -3l-1 0l-3 -3l-1 0l-4 -4l-1 0l-4 -4l-1 0l-5 -5l-1 0l-9 -8l-1 0l-3 -3l-1 0l-5 -5l-1 0l-35 -35l0 -1l-5 -5l0 -1l-3 -3l-2 -4l-3 -3l0 -1l-6 -8l-1 -3l-4 -5l-8 -16l-1 -5l-2 -3l0 -2l-2 -4l0 -3l-1 -1l0 -3l-1 -1l0 -3l-1 -1l0 -4l-1 -1l-1 -12l-1 -1l0 -9l-1 -1l0 -15l-1 -1l0 -24l-1 -1l0 -22l-1 -1l0 -15l-1 -1l0 -13l-1 -1l-1 -26l-1 -1l0 -15l-1 -1l0 -26l-1 -1l0 -49l1 -1l0 -71l-1 -1l0 -108l1 -1l0 -45l1 -1l0 -304l1 0zM161 932l0 2l1 1l1 5l2 3l1 5l3 5l0 2l2 3l0 2l3 5l0 2l3 5l0 2l3 5l0 2l3 5l0 2l2 3l0 2l2 3l0 2l4 8l0 2l1 1l0 2l1 1l0 2l1 1l0 2l1 1l0 2l1 1l0 2l1 1l0 2l1 1l0 2l1 1l0 2l1 1l0 2l2 4l0 3l1 1l0 2l2 4l0 3l1 1l0 2l1 1l0 2l2 4l0 3l1 1l0 2l2 4l0 3l1 1l0 2l1 1l0 2l2 4l0 3l2 4l0 3l2 4l0 3l2 4l0 3l1 1l2 8l2 3l0 2l4 8l2 2l1 3l2 2l4 8l2 2l11 24l2 2l1 3l2 2l2 4l7 8l0 1l5 5l0 1l12 12l0 1l2 2l1 0l12 11l1 0l8 6l3 1l2 2l3 1l5 4l3 1l20 14l3 1l2 2l5 2l2 2l10 5l2 0l9 5l2 0l5 3l2 0l3 2l2 0l5 3l2 0l3 2l2 0l3 2l2 0l5 3l2 0l8 4l2 0l1 1l2 0l1 1l2 0l1 1l2 0l1 1l2 0l1 1l2 0l4 2l3 0l4 2l3 0l1 1l3 0l1 1l3 0l1 1l4 0l1 1l3 0l1 1l3 0l1 1l4 0l1 1l3 0l1 1l3 0l1 1l3 0l1 1l3 0l1 1l3 0l1 1l3 0l1 1l-345 0l0 -380l1 1z"/>
<path fill="#fee294" fill-rule="evenodd" d="M546 47l879 0l0 942.5l-87 0l-4 -0.7l-53 -0.3l-163 0l-5 -1l-71 -0l-5 -1l-31 -0l-8 -1l-23 -0.3l-59 0l-4 0.7l-45 1l-5 -1l-17 -0.1l-3 -0.8l-26 -1.4l-5 -1l-24 -1.3l-35 -0.4l-26 -2.3l-16 -3.3l-15 -5.1l-10 -4.7l-11 -6.8l-19 -14.3l-25.6 -21.2l-30.4 -30.4l-16 -20.2l-9 -14.4l-5.5 -11l-4.7 -12l-4.8 -18l-4.2 -28l-0.2 -11l-0.9 -5l-0.4 -21l-0.9 -4l-0.3 -19l-1 -4l-1.4 -27l-0.9 -3l-2 -27l-2 -43l0.7 -97l-1.3 -53l0 -69l1 -9l0 -34l1 -12l0.2 -304zM160.2 945l4.9 7l23.2 55l11 33l20.2 70l5.8 16l14.6 25.2l10.9 22.8l7 11l11.7 15l13 14l14.4 12.4l57.4 36.6l21.6 10.3l45.6 18.7l21.4 7.3l22 6l8.4 5.7l-313.4 0l0.2 -366z"/>
<path fill="#fedc8c" fill-rule="evenodd" d="M553 47l872 0l0 936.5l-139 -0.3l-4 -0.7l-164 0l-5 -1l-70 0l-5 -1l-31 -0l-7 -0.9l-20 -0.1l-4 -0.7l-60 0l-17 1l-31 0.3l-5 -1l-16 -0.1l-3 -0.8l-9 -0.2l-23 -2.6l-8 -0.1l-16 -1.6l-34 -0.7l-13 -1l-14 -1.7l-16 -3.8l-13 -4.6l-15 -8l-14 -9.4l-20 -15.8l-20.1 -17.7l-17.9 -17.9l-17.5 -20.1l-8.6 -12l-8.9 -17l-5.5 -15l-4.1 -17l-3.8 -26l-3.4 -59l-0.9 -3l-0.1 -7l-5.3 -56l-1.4 -38l0.3 -96l-0.7 -4l-0.3 -44l-0.7 -4l0 -68l1 -9l0 -34l1 -13l0 -304l0.8 0zM160.6 952l1.9 2l14.8 34l9.8 25l12.2 38l16.6 59l6.1 17l5.2 10l10.4 17l11.6 24l9.2 14l8 10l14.6 15.6l14 12l57 36.7l18 8.8l24 10.1l30 12l22 7.2l13 3.2l3.8 3.4l-302.8 0l0 -359.3l0.6 0.3z"/>
<path fill="#fed485" fill-rule="evenodd" d="M559 47l866 0l0 931l-138 0l-1 -1l-167 0l-1 -1l-74 0l-1 -1l-35 0l-1 -1l-26 0l-1 -1l-80 0l-1 1l-32 0l-1 -1l-17 0l-1 -1l-11 0l-1 -1l-9 0l-1 -1l-9 0l-1 -1l-10 0l-1 -1l-12 0l-1 -1l-17 0l-1 -1l-19 0l-1 -1l-11 0l-1 -1l-7 0l-1 -1l-5 0l-1 -1l-3 0l-1 -1l-3 0l-1 -1l-3 0l-1 -1l-8 -2l-3 -2l-2 0l-12 -6l-2 -2l-8 -4l-3 -3l-7 -4l-3 -3l-1 0l-3 -3l-1 0l-5 -5l-1 0l-9 -9l-1 0l-9 -9l-1 0l-23 -23l0 -1l-16 -17l0 -1l-6 -7l-3 -7l-2 -2l0 -2l-6 -12l0 -2l-1 -1l0 -2l-2 -4l0 -3l-1 -1l0 -3l-1 -1l-1 -7l-1 -1l-1 -10l-1 -1l0 -6l-1 -1l0 -7l-1 -1l0 -10l-1 -1l0 -12l-1 -1l0 -13l-1 -1l0 -12l-1 -1l0 -10l-1 -1l0 -9l-1 -1l0 -9l-1 -1l0 -9l-1 -1l0 -9l-1 -1l0 -9l-1 -1l0 -11l-1 -1l0 -16l-1 -1l0 -120l-1 -1l0 -47l-1 -1l0 -66l1 -1l0 -42l1 -1l0 -317l1 0zM161 958l0 2l7 14l0 2l4 7l0 2l4 7l0 2l2 3l0 2l2 3l0 2l4 8l0 2l1 1l0 2l1 1l0 2l1 1l0 2l1 1l0 2l1 1l0 2l2 4l0 3l1 1l0 2l1 1l0 2l2 4l0 3l2 4l0 3l1 1l0 2l2 4l0 3l1 1l1 6l2 4l0 3l2 4l0 3l1 1l0 3l1 1l1 6l2 4l0 3l2 4l0 3l1 1l0 2l1 1l2 8l2 3l0 2l4 8l2 2l1 3l2 2l4 8l2 2l15 31l2 2l2 4l3 3l0 1l3 3l0 1l5 5l0 1l23 23l1 0l5 5l1 0l8 6l3 1l2 2l3 1l2 2l1 0l2 2l1 0l2 2l1 0l23 16l3 1l2 2l26 13l2 0l5 3l2 0l3 2l2 0l3 2l2 0l3 2l2 0l3 2l2 0l5 3l2 0l3 2l2 0l6 3l5 1l3 2l2 0l1 1l2 0l1 1l2 0l1 1l2 0l4 2l7 1l4 2l-294 0l0 -354l1 1z"/>
<path fill="#fecc7e" fill-rule="evenodd" d="M564 47l861 0l0 924.8l-289 -1l-18 -1l-64 0l-11 -1l-32 -0l-4 -1l-21 -0l-6 -1l-22 -0.3l-88 0.6l-4 -1l-14 -0.1l-3 -0.9l-9 -0.1l-3 -0.9l-41 -3.5l-3 -0.9l-15 -0.4l-5 -0.9l-27 -1.5l-14 -2.1l-18 -4.8l-14 -5.8l-15 -8.4l-24.9 -19l-38.3 -36l-10 -11l-12 -16l-10.8 -22l-7.5 -25l-3.3 -18l-2.2 -19l-1.4 -23l-1 -4l-1.4 -21l-3.8 -33l-3 -35l-1.1 -20l-0.3 -111l-1 -17l0 -31l-1 -13l0 -51l1 -5l0 -38l1 -12l-0.2 -309zM160.2 969l4.9 6l16 38l10.9 34l16.3 59l8.2 24l4.4 9l10 16l15.6 31l10.4 15l10.7 12l14.4 14.4l9 7.7l49 32.3l18.7 10.6l13.3 6.1l52 20.7l8.8 6.2l-272.8 0l0.2 -342z"/>
<path fill="#fdc576" fill-rule="evenodd" d="M571 47l854 0l0 918.2l-289 -1l-17 -1l-65 -0l-10 -1l-32 -0l-4 -1l-21 -0l-5 -0.9l-19 -0.1l-4 -0.7l-87 0.3l-5 -1l-13 -0l-4 -1l-9 -0.1l-3 -0.9l-6 -0.1l-37 -4.5l-47 -3.5l-14 -2.1l-17 -4.4l-13 -5.1l-14 -7.7l-10.7 -7.5l-13.3 -11l-34 -31.3l-8.4 -8.7l-10.4 -13l-8.3 -13l-7.3 -15l-7.8 -24l-3.7 -19l-2 -17l-11.4 -118l-1.1 -18l-0.7 -112l-1 -17l0 -31l-1 -12l0 -50l1 -5l0 -38l1 -12l0 -258l-0.7 -4l0 -48l0.8 0zM160.6 975l1.4 1.2l4.3 8.8l12.1 30l10 31l16.7 61l9 26l18.4 32l11.4 23l9.4 14l10.2 12l16.6 16.6l6 5l52 35l21 11.9l20 8.8l42.4 16.7l2.8 3l-264.2 0l0 -336.3l0.6 0.3z"/>
<path fill="#fdbd6f" fill-rule="evenodd" d="M577 47l848 0l0 912l-148 0l-1 -1l-139 0l-1 -1l-81 0l-1 -1l-41 0l-1 -1l-25 0l-1 -1l-23 0l-1 -1l-90 0l-1 -1l-16 0l-1 -1l-11 0l-1 -1l-17 -1l-1 -1l-16 -1l-1 -1l-8 0l-1 -1l-8 0l-1 -1l-10 0l-1 -1l-20 -1l-1 -1l-7 0l-1 -1l-12 -1l-1 -1l-3 0l-1 -1l-4 0l-4 -2l-3 0l-1 -1l-5 -1l-5 -3l-2 0l-8 -4l-2 -2l-5 -2l-3 -3l-1 0l-3 -3l-1 0l-3 -3l-1 0l-14 -13l-1 0l-38 -36l0 -1l-4 -4l0 -1l-5 -6l-1 -3l-5 -7l-9 -18l0 -2l-2 -3l0 -2l-1 -1l0 -2l-1 -1l0 -2l-2 -4l0 -3l-1 -1l0 -3l-1 -1l0 -3l-1 -1l-1 -10l-1 -1l0 -6l-1 -1l0 -7l-1 -1l-1 -18l-1 -1l0 -8l-1 -1l0 -9l-1 -1l0 -8l-1 -1l0 -8l-1 -1l0 -8l-1 -1l0 -9l-1 -1l0 -8l-1 -1l0 -9l-1 -1l0 -10l-1 -1l0 -12l-1 -1l0 -17l-1 -1l0 -60l-1 -1l0 -66l-1 -1l0 -43l-1 -1l0 -50l1 -1l0 -48l1 -1l0 -266l-1 -1l0 -47l1 0zM161 981l3 6l0 2l4 7l0 2l2 3l0 2l4 8l0 2l1 1l2 8l2 3l0 3l1 1l0 2l1 1l0 2l1 1l0 2l2 4l0 3l2 4l0 3l1 1l0 2l2 4l0 3l2 4l0 3l2 4l0 3l1 1l1 7l2 4l0 3l1 1l1 7l2 4l0 3l2 4l0 3l1 1l0 2l1 1l0 2l1 1l2 8l4 8l0 2l2 4l2 2l1 3l2 2l1 3l4 5l2 5l2 2l7 14l0 2l2 2l0 2l2 2l3 7l2 2l0 1l2 2l4 7l3 3l0 1l11 11l0 1l19 18l1 0l10 8l3 1l8 6l3 1l3 3l1 0l2 2l7 4l6 5l6 3l3 3l3 1l7 5l24 12l2 0l3 2l2 0l5 3l2 0l3 2l2 0l3 2l2 0l3 2l2 0l3 2l2 0l3 2l2 0l8 4l-257 0l0 -331l1 1z"/>
<path fill="#fdb567" fill-rule="evenodd" d="M582 47l843 0l0 906.2l-253 -1l-32 -0.3l-4 -0.7l-120 -1l-4 -1l-22 0l-7 -1l-17 0l-5 -1l-81 -0.3l-43 -3.2l-84 -10.6l-22 -4.6l-13 -4.3l-19 -9.5l-14 -9.8l-18 -15.3l-28.5 -27.5l-11 -14l-10.7 -18l-6.5 -14l-7 -24l-4.3 -26l-10.5 -91l-0.9 -3l-2 -24l-0.4 -15l-0.9 -5l-0.3 -55l-1 -13l-0.3 -54l-0.7 -4l-0.3 -40l-0.7 -4l0.7 -93l1 -12l-0.3 -258l-0.7 -4l0.5 -44zM160.2 991l4.9 6l10.9 29l13.9 47l10.4 40l9.2 25l16.6 28l12.4 25l12.5 18.8l16 17l14.3 13.2l52.7 36.1l13 7.7l18 9.1l28 11.6l9.1 6.4l-242.1 0l0.2 -320z"/>
<path fill="#fdad60" fill-rule="evenodd" d="M588 47l837 0l0 899.8l-92 0l-4 -0.7l-157 -0.3l-4 -0.7l-89 -0.3l-4 -0.7l-58 -0.3l-4 -1l-22 -0l-7 -1l-17 0l-5 -1l-23 0l-4 -0.7l-54 0l-32 -2.1l-86 -11.8l-25 -5.3l-17 -5.8l-16 -8l-22 -15.6l-11.4 -9.7l-20.5 -20l-10.4 -12l-12.7 -18.2l-7.3 -13.8l-6.6 -19l-6.9 -35l-12.6 -93l-2.7 -29l-1.7 -39l-1 -79l-1.7 -36l-0.3 -31l0.3 -91l1 -12l0 -153l-0.7 -4l-0.3 -107l0.5 -43zM160.6 997l1.8 2l10.1 27l14.2 48l10.4 40l6 17l5.8 13l14.6 24l12.4 25l13.2 20l15.1 16l11.8 10.9l13 10l16 10l27 19l13 7.9l19 9.8l27.2 11.4l2.8 3l-234 0l0 -314.3l0.6 0.3z"/>
<path fill="#fba35c" fill-rule="evenodd" d="M594 47l831 0l0 894l-91 0l-1 -1l-160 0l-1 -1l-92 0l-1 -1l-61 0l-1 -1l-28 0l-1 -1l-21 0l-1 -1l-27 0l-1 -1l-56 0l-1 -1l-18 0l-1 -1l-11 0l-1 -1l-8 0l-1 -1l-7 0l-1 -1l-6 0l-1 -1l-13 -1l-1 -1l-5 0l-1 -1l-5 0l-1 -1l-5 0l-1 -1l-5 0l-1 -1l-5 0l-1 -1l-11 -1l-1 -1l-4 0l-1 -1l-4 0l-1 -1l-3 0l-1 -1l-8 -1l-1 -1l-6 -1l-1 -1l-5 -1l-3 -2l-5 -1l-16 -8l-2 -2l-3 -1l-2 -2l-7 -4l-11 -9l-1 0l-5 -5l-1 0l-22 -22l0 -1l-5 -5l0 -1l-8 -9l0 -1l-3 -3l0 -1l-5 -6l-1 -3l-2 -2l-5 -10l0 -2l-2 -3l0 -2l-1 -1l0 -2l-1 -1l0 -2l-2 -4l0 -3l-1 -1l0 -3l-1 -1l0 -3l-1 -1l0 -4l-1 -1l0 -4l-1 -1l0 -5l-1 -1l0 -5l-1 -1l0 -5l-1 -1l-1 -11l-1 -1l-1 -13l-1 -1l-1 -12l-1 -1l0 -6l-1 -1l0 -5l-1 -1l0 -5l-1 -1l0 -6l-1 -1l0 -6l-1 -1l0 -6l-1 -1l0 -7l-1 -1l0 -7l-1 -1l0 -9l-1 -1l0 -10l-1 -1l0 -13l-1 -1l0 -22l-1 -1l0 -44l-1 -1l0 -38l-1 -1l0 -31l-1 -1l0 -129l1 -1l0 -160l-1 -1l0 -149l1 0zM161 1003l0 2l2 3l2 8l2 3l0 2l1 1l0 2l1 1l0 2l2 4l0 3l1 1l0 2l1 1l0 2l2 4l0 3l2 4l0 3l1 1l0 2l2 4l0 3l2 4l1 7l2 4l0 3l1 1l0 3l1 1l0 3l1 1l0 3l1 1l0 3l1 1l1 7l1 1l0 2l1 1l0 2l2 4l0 3l3 6l1 5l2 3l0 2l2 3l0 2l3 6l2 2l2 5l6 8l15 30l2 2l3 7l2 2l0 1l2 2l4 7l3 3l0 1l25 25l1 0l6 6l4 2l3 3l1 0l11 8l3 1l6 5l1 0l2 2l7 4l3 3l1 0l17 12l3 1l2 2l11 5l2 2l4 2l2 0l7 4l2 0l7 4l2 0l8 4l-228 0l0 -309l1 1z"/>
<path fill="#fa9857" fill-rule="evenodd" d="M600 47l825 0l0 888.2l-249 -1l-19 -1l-136 -1l-6 -1l-23 0l-6 -1l-15 -0l-5 -1l-24 -0.3l-13 -1l-44 -0.3l-6 -1l-11 -0.1l-14 -1.3l-38 -5.5l-42 -8l-23 -5.7l-21 -7.5l-19 -9.8l-14 -9.5l-13.9 -11.1l-17.1 -17.1l-13.7 -16.9l-10.7 -16l-7.3 -16l-6.8 -21l-7.3 -34l-8.7 -52l-4.9 -37l-1.8 -21l-2.3 -45l0 -26l-1 -11l-0.3 -35l-0.7 -4l-1.3 -45l0 -110l1 -15l-1 -299l0.8 0zM160.7 1018l2.7 3l2.6 5l14 47l8.4 34l5.1 16l7.2 18l7.1 13l9.5 15l16.9 32.3l11 16.5l20.3 20.3l12.7 11.3l58.5 39.7l18.5 10.5l15 6.9l5.2 4.6l-215.2 0l0 -293.8l0.7 0.8z"/>
<path fill="#f98e52" fill-rule="evenodd" d="M606 47l819 0l0 881.8l-248 -1l-19 -1l-69 0l-9 -1l-58 -0l-6 -1l-23 0l-6 -1l-15 0l-4 -0.9l-13 -0.1l-25 -1.7l-44 -0.7l-6 -1l-10 0l-11 -1.1l-36 -5.5l-47 -10l-21 -5.7l-16 -5.7l-15 -6.8l-21 -13.2l-14 -11.5l-15.1 -15.1l-13.9 -17l-8 -12.1l-9.2 -18.9l-6.6 -19l-7.1 -27l-3.8 -18l-6.7 -39l-5 -38l-2 -24l-2.1 -41l0 -26l-1 -11l0 -19l-2.7 -64l0 -109l1 -15l0 -84l-0.7 -4l-0.3 -67l0.2 -145zM161 1024.9l1.6 2.1l10 33l12.6 49l8.8 25l4.8 11l17.5 29l13.4 26l12.3 19.2l21.7 21.8l12.8 11l60.5 41.1l16 9l13 6.2l2.6 2.6l-208.6 0l0 -286.6l1 0.5z"/>
<path fill="#f7844e" fill-rule="evenodd" d="M613 47l812 0l0 876l-158 0l-1 -1l-103 0l-1 -1l-72 0l-1 -1l-69 0l-1 -1l-27 0l-1 -1l-18 0l-1 -1l-17 0l-1 -1l-19 0l-1 -1l-26 0l-1 -1l-22 0l-1 -1l-13 0l-1 -1l-9 0l-1 -1l-7 0l-1 -1l-5 0l-1 -1l-11 -1l-1 -1l-9 -1l-1 -1l-3 0l-1 -1l-9 -1l-1 -1l-3 0l-1 -1l-3 0l-1 -1l-3 0l-1 -1l-3 0l-1 -1l-3 0l-1 -1l-3 0l-1 -1l-7 -1l-1 -1l-6 -1l-4 -2l-3 0l-3 -2l-3 0l-3 -2l-3 0l-3 -2l-5 -1l-7 -4l-2 0l-10 -5l-2 -2l-5 -2l-3 -3l-3 -1l-3 -3l-1 0l-3 -3l-1 0l-4 -4l-1 0l-17 -16l0 -1l-11 -12l0 -1l-3 -3l0 -1l-8 -11l-11 -22l0 -2l-4 -8l0 -2l-1 -1l0 -2l-1 -1l0 -2l-1 -1l0 -2l-1 -1l0 -2l-2 -4l0 -3l-1 -1l0 -2l-2 -4l0 -3l-1 -1l0 -3l-1 -1l0 -3l-1 -1l0 -3l-1 -1l0 -4l-1 -1l0 -4l-1 -1l0 -3l-1 -1l0 -5l-1 -1l0 -4l-1 -1l0 -4l-1 -1l-1 -12l-1 -1l0 -6l-1 -1l0 -6l-1 -1l0 -6l-1 -1l0 -8l-1 -1l0 -8l-1 -1l0 -10l-1 -1l0 -12l-1 -1l0 -16l-1 -1l0 -22l-1 -1l-1 -59l-1 -1l0 -27l-1 -1l0 -31l-1 -1l0 -118l1 -1l0 -92l-1 -1l0 -211l1 0zM161 1032l0 3l1 1l0 2l1 1l0 2l2 4l0 3l1 1l0 2l2 4l0 3l2 4l0 3l1 1l0 2l2 4l0 3l1 1l0 3l2 4l1 8l1 1l0 3l1 1l0 3l1 1l0 3l1 1l1 7l1 1l0 2l1 1l0 2l1 1l2 8l4 8l0 2l9 18l2 2l1 3l2 2l0 1l4 5l2 5l2 2l14 28l4 5l1 3l2 2l0 1l2 2l4 7l22 22l1 0l6 6l1 0l8 7l1 0l6 5l1 0l2 2l3 1l2 2l7 4l3 3l1 0l2 2l4 2l3 3l1 0l2 2l7 4l3 3l3 1l3 3l3 1l7 5l5 2l2 2l14 7l-203 0l0 -280l1 1z"/>
<path fill="#f67a49" fill-rule="evenodd" d="M618 47l807 0l0 869.8l-155 -0.3l-4 -0.7l-24 -0.3l-76 0l-5 -1l-56 -0l-16 -1l-61 -0l-9 -1l-24 0l-6 -1l-13 -0l-6 -1l-12 -0l-4 -1l-12 -0.1l-8 -1l-23 -0.3l-5 -1l-18 -0.4l-24 -2l-31 -5.1l-19 -4.3l-32 -8.3l-26 -8.8l-18 -8l-14 -7.9l-19.6 -14.5l-12.4 -11.4l-11 -12.6l-11.9 -16.9l-10.5 -20l-9.6 -25l-8.2 -29l-6.3 -30l-5.4 -34l-3.3 -29l-3.6 -58l-4.7 -131l0 -82l1 -18l0 -90l-1 -6l-0.3 -162l0 -46l0.8 0zM160.3 1052l3.8 5l2.5 6l6 21l6.6 28l9.2 25l9.2 18l12.6 20l14.7 28l13 20.3l22 21.7l13 10.7l52 36.1l26 16.1l3.4 3.1l-194.4 0l0 -259.5l0.3 0.5z"/>
<path fill="#f47044" fill-rule="evenodd" d="M623 47l802 0l0 863.2l-153 -0.7l-24 -0.3l-4 -0.7l-77 -0l-5 -1l-56 0l-17 -1l-60 0l-9 -1l-24 -0l-6 -1l-31 -1l-4 -1l-43 -1.7l-5 -1l-12 -0l-30 -2.7l-31 -5.2l-32 -7.8l-17 -5l-23 -8.4l-19.2 -8.8l-13.8 -8.1l-16 -11.8l-13 -11.7l-12 -13.4l-10 -13.9l-10.7 -19.1l-10.2 -25l-7.7 -26l-6.9 -31l-7.4 -45l-3.7 -34l-0.1 -9l-1 -5l0 -9l-1.7 -20l-1.7 -51l-0.9 -5l0 -16l-1 -10l-1 -43l-0.7 -4l1 -191l-1 -6l-0.5 -207zM161 1060.6l1.8 2.4l5.9 20l7.6 32l8.7 23l10.7 20l11.5 18l15.1 28l13.7 21.6l8.7 9.4l25.3 21.8l53 37l23 14.2l2.9 3l-188.9 0l0 -250.9l1 0.5z"/>
<path fill="#f16640" fill-rule="evenodd" d="M629 47l796 0l0 857l-36 0l-1 -1l-140 0l-1 -1l-80 0l-1 -1l-59 0l-1 -1l-77 0l-1 -1l-34 0l-1 -1l-18 0l-1 -1l-14 0l-1 -1l-14 0l-1 -1l-15 0l-1 -1l-16 0l-1 -1l-14 0l-1 -1l-12 0l-1 -1l-9 0l-1 -1l-7 0l-1 -1l-6 0l-1 -1l-11 -1l-1 -1l-4 0l-1 -1l-4 0l-1 -1l-3 0l-1 -1l-4 0l-1 -1l-3 0l-1 -1l-7 -1l-4 -2l-7 -1l-1 -1l-2 0l-4 -2l-3 0l-1 -1l-2 0l-1 -1l-8 -2l-3 -2l-2 0l-8 -4l-2 0l-5 -3l-2 0l-10 -5l-7 -5l-5 -2l-3 -3l-7 -4l-8 -7l-1 0l-5 -5l-1 0l-14 -14l0 -1l-6 -6l0 -1l-6 -7l0 -1l-6 -8l-2 -5l-2 -2l-7 -14l0 -2l-3 -5l-1 -5l-2 -3l0 -2l-1 -1l0 -2l-1 -1l0 -2l-2 -4l0 -3l-1 -1l0 -2l-2 -4l0 -3l-1 -1l0 -3l-1 -1l0 -3l-1 -1l0 -3l-1 -1l0 -3l-1 -1l0 -3l-1 -1l0 -4l-1 -1l0 -4l-1 -1l0 -4l-1 -1l0 -4l-1 -1l0 -4l-1 -1l0 -4l-1 -1l0 -5l-1 -1l0 -5l-1 -1l0 -5l-1 -1l0 -6l-1 -1l0 -6l-1 -1l0 -7l-1 -1l-1 -18l-1 -1l0 -10l-1 -1l0 -13l-1 -1l0 -16l-1 -1l0 -17l-1 -1l0 -18l-1 -1l0 -18l-1 -1l0 -19l-1 -1l0 -21l-1 -1l0 -30l-1 -1l0 -80l1 -1l0 -113l-1 -1l0 -161l-1 -1l0 -46l1 0zM161 1068l0 2l2 4l0 3l2 4l0 3l1 1l0 3l1 1l0 3l1 1l1 7l1 1l0 4l1 1l0 3l1 1l1 7l1 1l2 8l2 3l0 2l10 20l2 2l2 5l2 2l1 3l2 2l3 6l4 5l2 5l2 2l2 5l2 2l4 9l2 2l3 7l2 2l1 3l2 2l3 6l2 2l2 4l3 3l0 1l14 13l1 0l6 6l1 0l5 5l1 0l3 3l1 0l4 4l1 0l6 5l1 0l2 2l1 0l2 2l1 0l2 2l1 0l2 2l1 0l2 2l7 4l3 3l1 0l6 5l1 0l2 2l7 4l3 3l1 0l5 4l3 1l2 2l1 0l2 2l7 4l-185 0l0 -244l1 1z"/>
<path fill="#ec5c3b" fill-rule="evenodd" d="M635 47l790 0l0 850.8l-33 -0.3l-4 -0.7l-110 0l-27 -0.3l-4 -0.7l-137 -1.3l-4 -0.7l-74 -0.3l-4 -0.7l-50 -1.3l-46 -3.1l-3 -0.8l-29 -1.4l-3 -0.9l-20 -1.4l-27 -4.3l-27 -6.2l-25 -7.3l-20 -7.3l-21 -9.8l-14 -8.4l-19 -14.4l-15 -14.3l-12.1 -14.9l-10.9 -17l-9.5 -19l-7.5 -20l-8.7 -30l-7.4 -34l-5.1 -32l-3 -27l-4 -60l-2.4 -55l-0.9 -7l0 -14l-1 -7l0 -24l-1 -8l0 -62l1 -12l0 -113l-1 -11l0 -122l-0.3 -29l-0.7 -4l0.5 -43zM160.1 1090l5.7 9l4.3 19l3 9l6.1 13l13.8 24.3l8.5 12.7l17.7 32l14.8 23l7 7l25 20.4l57 39.9l13 8.2l3.5 3.5l-179.5 0l0.1 -221z"/>
<path fill="#e75337" fill-rule="evenodd" d="M642 47l783 0l0 844.2l-37 -1l-110 0l-4 -0.7l-27 -0.3l-51 0l-4 -0.7l-54 -0.3l-4 -0.7l-47 -0.3l-4 -0.7l-67 -0.3l-4 -0.7l-25 -0.4l-45 -3.6l-8 -0.1l-3 -0.8l-30 -1.9l-3 -0.9l-20 -1.8l-30 -5.1l-24 -5.8l-23 -7.1l-20 -7.6l-19 -9.1l-15 -9.4l-14 -10.6l-20.7 -20.4l-12.7 -17l-11.5 -20l-9.5 -22l-5.9 -17l-8.3 -31l-5.1 -24l-4.1 -26l-3 -27l-7.6 -122l-0.1 -15l-1 -7l0 -24l-1 -7l0 -60l1 -13l0 -113l-1 -11l0 -124l-0.7 -4l-0.3 -29l0.5 -41zM160 1099l2.8 3l3.6 17l3 9l6.8 14l22.8 36.7l18.2 32.3l14.8 23l7 7l26 20.5l56.5 39.5l13.5 8.6l1 1.4l-176 0l0 -212z"/>
<path fill="#e34933" fill-rule="evenodd" d="M649 47l776 0l0 838l-2 0l-1 -1l-143 0l-1 -1l-81 0l-1 -1l-57 0l-1 -1l-51 0l-1 -1l-69 0l-1 -1l-27 0l-1 -1l-15 0l-1 -1l-13 0l-1 -1l-11 0l-1 -1l-11 0l-1 -1l-10 0l-1 -1l-10 0l-1 -1l-9 0l-1 -1l-17 -1l-1 -1l-6 0l-1 -1l-11 -1l-1 -1l-10 -1l-1 -1l-3 0l-1 -1l-3 0l-1 -1l-8 -1l-4 -2l-3 0l-1 -1l-3 0l-1 -1l-2 0l-4 -2l-3 0l-1 -1l-2 0l-1 -1l-8 -2l-3 -2l-5 -1l-8 -4l-2 0l-20 -10l-2 -2l-8 -4l-3 -3l-4 -2l-8 -7l-1 0l-16 -15l0 -1l-11 -12l0 -1l-3 -3l-4 -7l-3 -3l-2 -5l-5 -7l-6 -12l0 -2l-3 -5l0 -2l-3 -5l-1 -5l-2 -3l0 -2l-1 -1l0 -2l-1 -1l0 -2l-2 -4l0 -3l-1 -1l0 -2l-2 -4l0 -3l-2 -4l0 -3l-1 -1l0 -3l-1 -1l0 -3l-1 -1l0 -4l-1 -1l0 -3l-1 -1l0 -4l-1 -1l0 -4l-1 -1l0 -5l-1 -1l0 -5l-1 -1l0 -5l-1 -1l-1 -13l-1 -1l0 -8l-1 -1l-1 -20l-1 -1l0 -13l-1 -1l0 -14l-1 -1l-1 -32l-1 -1l0 -16l-1 -1l0 -16l-1 -1l0 -16l-1 -1l0 -19l-1 -1l0 -30l-1 -1l0 -59l1 -1l0 -137l-1 -1l0 -127l-1 -1l0 -69l1 0zM161 1109l0 4l1 1l1 7l1 1l1 5l2 3l0 2l4 8l2 2l5 10l6 8l1 3l4 5l1 3l4 5l1 3l2 2l1 3l2 2l1 3l5 7l2 5l2 2l1 3l2 2l1 3l2 2l1 3l4 5l1 3l4 5l3 6l8 8l1 0l3 3l1 0l4 4l1 0l3 3l1 0l4 4l1 0l11 9l4 2l3 3l1 0l2 2l7 4l3 3l7 4l3 3l1 0l2 2l4 2l3 3l1 0l2 2l1 0l2 2l1 0l2 2l7 4l3 3l1 0l5 4l-172 0l0 -203l1 1z"/>
<path fill="#de402e" fill-rule="evenodd" d="M655 47l770 0l0 831.4l-225 -1.9l-24 -1l-34 0l-12 -1l-37 0l-7 -1l-50 0l-36 -1l-62 -4.5l-3 -0.9l-38 -3.6l-27 -4.3l-25 -5.2l-26 -7.3l-24 -8.7l-17 -8l-17 -10.1l-16 -12.4l-11 -10.5l-14 -17l-14.7 -23l-11.3 -23.5l-5.7 -14.5l-8.6 -27l-6.5 -27l-5.1 -32l-2.5 -22l-1.1 -19l-0.9 -4l-0.1 -11l-0.9 -3l0 -11l-1 -6l0 -9l-1 -7l-3.5 -57l-1.5 -45l1 -122l-2.5 -256l0 -14l1 0zM161 1128l1.7 2l9.5 18l19.2 29l20.7 35l15 24l4.4 5l30.4 23l47 33l14 9l6 5l-169 0l0 -184l1 1z"/>
<path fill="#ffffff" fill-rule="evenodd" d="M661 47l764 0l0 825l-182 -1l-1 -1l-61 0l-1 -1l-45 0l-1 -1l-41 0l-1 -1l-55 0l-1 -1l-35 0l-1 -1l-17 0l-1 -1l-12 0l-1 -1l-10 0l-1 -1l-9 0l-1 -1l-17 -1l-1 -1l-7 0l-1 -1l-8 0l-1 -1l-7 0l-1 -1l-6 0l-1 -1l-13 -1l-1 -1l-5 0l-1 -1l-4 0l-1 -1l-4 0l-1 -1l-9 -1l-1 -1l-3 0l-1 -1l-8 -1l-4 -2l-3 0l-1 -1l-7 -1l-1 -1l-2 0l-1 -1l-2 0l-1 -1l-2 0l-1 -1l-2 0l-1 -1l-2 0l-1 -1l-8 -2l-5 -3l-2 0l-3 -2l-2 0l-14 -7l-2 -2l-3 -1l-2 -2l-6 -3l-3 -3l-1 0l-3 -3l-1 0l-4 -4l-1 0l-18 -18l0 -1l-5 -5l0 -1l-6 -7l0 -1l-8 -11l-2 -5l-2 -2l-2 -5l-2 -2l-6 -12l0 -2l-3 -5l0 -2l-4 -7l-1 -5l-2 -3l-1 -5l-2 -3l0 -3l-2 -3l0 -3l-1 -1l0 -2l-2 -4l0 -3l-2 -4l0 -3l-1 -1l0 -3l-1 -1l0 -3l-1 -1l0 -4l-1 -1l0 -3l-1 -1l0 -5l-1 -1l0 -4l-1 -1l0 -5l-1 -1l0 -6l-1 -1l0 -6l-1 -1l0 -7l-1 -1l-1 -20l-1 -1l0 -11l-1 -1l0 -13l-1 -1l0 -13l-1 -1l0 -13l-1 -1l0 -14l-1 -1l-1 -29l-1 -1l0 -16l-1 -1l0 -19l-1 -1l0 -134l1 -1l0 -14l-1 -1l0 -108l-1 -1l0 -142l-1 -1l0 -13l1 0zM161 1135l3 7l23 33l1 3l7 10l1 3l7 10l1 3l4 5l4 8l6 8l1 3l2 2l4 8l8 8l1 0l6 5l4 2l3 3l7 4l3 3l1 0l6 5l4 2l3 3l7 4l3 3l1 0l2 2l7 4l3 3l1 0l2 2l7 4l3 3l1 0l2 2l1 0l2 2l7 4l6 5l-166 0l0 -177l1 1z"/>
<g fill="none" stroke="#000" stroke-width="2.2" stroke-opacity="0.66" stroke-linejoin="round">
<path d="M1426.0 1087.7L1311.0 1087.9M1259.0 1088.6L1160.5 1090.7Q1062.0 1092.9 1041.5 1092.9Q1021.0 1092.9 979.0 1092.2Q937.0 1091.4 887.5 1092.5L838.0 1093.6M786.0 1093.6L763.5 1093.7Q741.0 1093.7 726.5 1093.2Q712.0 1092.8 697.5 1091.7Q683.0 1090.7 654.0 1087.9Q625.0 1085.1 607.5 1083.1Q590.0 1081.2 574.0 1078.6Q558.0 1076.0 548.0 1073.5Q538.0 1071.0 529.4 1068.0Q520.8 1065.0 517.9 1063.6Q515.0 1062.1 512.5 1060.6Q510.0 1059.0 505.0 1054.8Q500.0 1050.7 488.0 1037.6Q476.0 1024.5 472.1 1019.2Q468.1 1014.0 465.1 1008.1Q462.0 1002.2 456.8 990.1Q451.6 978.0 449.1 969.0Q446.6 960.0 444.6 949.9L442.6 939.9M438.7 896.1L437.2 869.0Q435.7 842.0 435.4 824.5Q435.0 807.0 435.2 794.5Q435.4 782.0 436.5 753.5Q437.5 725.0 437.7 711.5Q437.9 698.0 437.8 682.0Q437.6 666.0 436.7 631.5Q435.8 597.0 435.8 579.0Q435.8 561.0 436.2 545.5Q436.6 530.0 438.2 497.0L439.7 464.0M440.4 420.0L439.8 387.0Q439.3 354.0 439.3 336.5Q439.3 319.0 441.4 233.5Q443.4 148.0 443.9 97.0L444.3 46.0"/>
<path d="M1426.0 1068.2L1349.0 1068.5Q1272.0 1068.7 1165.0 1070.6Q1058.0 1072.4 1002.5 1071.9Q947.0 1071.3 910.5 1072.6Q874.0 1074.0 862.5 1074.2Q851.0 1074.4 796.0 1073.8Q741.0 1073.2 727.0 1072.6Q713.0 1072.0 696.0 1070.3Q679.0 1068.5 656.0 1065.0Q633.0 1061.4 624.8 1059.7Q616.6 1058.0 603.8 1054.7Q591.0 1051.3 587.0 1049.8Q583.0 1048.2 577.3 1045.6Q571.6 1043.0 563.3 1038.6Q555.0 1034.1 542.3 1025.6Q529.5 1017.0 526.3 1014.4Q523.0 1011.7 520.0 1008.8Q517.0 1005.9 508.4 996.0Q499.8 986.0 495.9 980.5Q492.0 975.0 489.5 970.5Q487.1 966.0 484.7 961.0Q482.3 956.0 478.7 946.5Q475.1 937.0 472.8 928.0Q470.5 919.0 468.1 903.5Q465.6 888.0 463.4 870.5Q461.2 853.0 459.9 838.0Q458.7 823.0 458.3 806.0Q458.0 789.0 458.8 758.5Q459.6 728.0 459.7 713.0Q459.8 698.0 458.7 650.5Q457.6 603.0 457.5 584.5Q457.4 566.0 457.7 551.0Q458.0 536.0 459.7 489.5Q461.4 443.0 461.2 382.0Q461.1 321.0 463.0 236.0Q464.9 151.0 465.3 98.5L465.8 46.0"/>
<path d="M1426.0 1049.1L1353.5 1049.1Q1281.0 1049.2 1177.0 1049.9Q1073.0 1050.6 1016.5 1049.8Q960.0 1049.0 946.5 1049.3Q933.0 1049.7 906.5 1051.2Q880.0 1052.7 869.0 1053.0Q858.0 1053.2 847.5 1053.0Q837.0 1052.8 814.0 1051.8Q791.0 1050.8 766.0 1050.5Q741.0 1050.2 730.0 1049.7Q719.0 1049.2 705.5 1047.6Q692.0 1046.0 677.5 1043.2Q663.0 1040.3 645.5 1035.9Q628.0 1031.5 612.6 1026.2Q597.2 1021.0 591.6 1018.4Q586.0 1015.8 579.9 1011.9Q573.9 1008.0 565.9 1001.6Q558.0 995.2 551.6 989.1Q545.1 983.0 540.2 977.0Q535.2 971.0 527.6 960.0Q520.0 949.0 515.4 941.0Q510.7 933.0 507.6 926.0Q504.5 919.0 499.9 905.0Q495.3 891.0 491.6 877.0Q487.9 863.0 485.5 850.0Q483.0 837.0 481.6 824.0Q480.2 811.0 479.8 797.0Q479.4 783.0 479.9 757.0Q480.3 731.0 480.3 718.0Q480.3 705.0 479.0 659.5Q477.6 614.0 477.4 592.0Q477.2 570.0 478.7 507.5Q480.3 445.0 480.4 386.0Q480.5 327.0 482.1 241.5Q483.6 156.0 484.0 101.0L484.4 46.0"/>
<path d="M1426.0 1030.3L1261.5 1030.0Q1097.0 1029.7 1031.0 1028.7Q965.0 1027.6 952.0 1027.8Q939.0 1028.0 912.5 1029.4Q886.0 1030.8 874.0 1031.0Q862.0 1031.2 852.0 1031.0Q842.0 1030.7 817.5 1029.5Q793.0 1028.3 768.0 1028.0Q743.0 1027.8 733.5 1027.4Q724.0 1027.0 713.5 1025.9Q703.0 1024.9 692.5 1023.1Q682.0 1021.2 672.0 1018.8Q662.0 1016.3 652.4 1013.2Q642.8 1010.0 637.9 1008.0Q633.0 1006.1 629.5 1004.4Q626.0 1002.7 613.0 995.1Q600.0 987.4 595.5 984.3Q591.0 981.2 587.7 978.1Q584.4 975.0 571.7 960.3Q559.0 945.7 553.7 938.8Q548.4 932.0 543.3 924.0Q538.2 916.0 532.1 904.6Q526.0 893.1 521.6 883.1Q517.2 873.0 514.0 863.0Q510.8 853.0 508.3 842.0Q505.9 831.0 504.4 819.5Q502.9 808.0 502.2 795.0Q501.6 782.0 501.5 748.0Q501.4 714.0 500.0 673.5Q498.5 633.0 498.2 609.5Q497.9 586.0 500.3 380.0Q502.7 174.0 503.0 110.0L503.3 46.0"/>
<path d="M1426.0 1013.2L1266.5 1012.7Q1107.0 1012.1 1080.0 1011.8Q1053.0 1011.5 1008.0 1010.5Q963.0 1009.5 949.0 1009.8Q935.0 1010.1 910.0 1011.2Q885.0 1012.4 875.0 1012.5Q865.0 1012.6 854.4 1012.3Q843.8 1012.0 819.4 1010.6Q795.0 1009.1 769.5 1008.8Q744.0 1008.4 734.0 1007.8Q724.0 1007.2 714.5 1005.8Q705.0 1004.3 695.5 1001.8Q686.0 999.4 675.5 995.4Q665.0 991.4 655.5 986.7Q646.1 982.0 641.1 979.0Q636.2 976.0 632.1 972.9Q628.0 969.8 619.0 961.0Q610.0 952.3 602.0 945.3Q594.0 938.2 590.5 934.7Q587.0 931.3 577.8 920.1Q568.6 909.0 563.8 902.7Q559.0 896.5 554.8 889.7Q550.5 883.0 546.9 876.0Q543.3 869.0 539.7 860.0Q536.0 851.0 533.3 842.0Q530.5 833.0 528.7 824.0Q526.9 815.0 525.7 805.0Q524.6 795.0 524.2 785.5Q523.7 776.0 523.2 750.5Q522.7 725.0 520.7 687.5Q518.8 650.0 518.3 629.0Q517.9 608.0 518.3 520.5Q518.7 433.0 519.8 340.5Q520.9 248.0 521.2 147.0L521.5 46.0"/>
<path d="M1426.0 994.7L1310.9 994.4M1259.1 994.3L1168.0 993.7Q1077.0 993.2 1018.5 991.9Q960.0 990.7 947.0 990.8Q934.0 990.9 905.5 991.8Q877.0 992.6 867.5 992.5Q858.0 992.4 848.0 991.8L838.0 991.3M786.2 988.3L765.6 987.9Q745.0 987.4 734.5 986.6Q724.0 985.7 718.7 984.9Q713.4 984.0 708.7 982.9Q704.0 981.8 699.5 980.4Q695.0 978.9 690.5 977.1Q686.0 975.2 681.2 972.6Q676.4 970.0 671.7 966.8Q667.0 963.6 648.0 948.6Q629.0 933.5 624.9 929.7Q620.8 926.0 605.9 911.0Q591.0 895.9 588.0 892.2Q585.0 888.5 581.3 883.2Q577.5 878.0 571.5 868.5Q565.6 859.0 562.0 851.5Q558.5 844.0 555.8 835.5Q553.0 827.0 551.4 819.0Q549.7 811.0 548.6 801.5Q547.5 792.0 545.4 750.8L543.3 709.6M539.9 662.0L539.1 640.0Q538.3 618.0 538.5 577.0Q538.7 536.0 538.3 491.0Q537.9 446.0 538.9 384.5Q539.9 323.0 540.1 280.5L540.2 237.9M540.2 190.1L540.1 46.0"/>
<path d="M1426.0 977.9L1329.0 977.6Q1232.0 977.3 1163.5 976.8Q1095.0 976.3 1065.0 975.8Q1035.0 975.3 991.5 974.0Q948.0 972.7 910.0 973.2Q872.0 973.6 859.0 973.0Q846.0 972.3 820.0 970.0Q794.0 967.6 768.0 966.1Q742.0 964.5 734.5 963.4Q727.0 962.2 720.0 960.4Q713.0 958.5 706.5 956.0Q700.0 953.4 693.5 949.9Q687.0 946.5 680.0 941.9Q673.0 937.3 666.5 932.4Q660.0 927.4 645.5 914.5Q631.0 901.6 626.5 897.1Q622.0 892.7 611.3 880.8Q600.5 869.0 596.3 863.3Q592.0 857.5 589.9 853.8Q587.7 850.0 585.7 845.5Q583.6 841.0 581.8 836.0Q579.9 831.0 578.4 826.0Q576.9 821.0 575.1 813.0Q573.3 805.0 572.0 795.5Q570.7 786.0 568.4 757.5Q566.1 729.0 562.9 696.0Q559.7 663.0 559.0 652.5Q558.4 642.0 558.1 631.0Q557.7 620.0 557.7 579.0Q557.7 538.0 556.9 492.0Q556.2 446.0 557.2 375.0Q558.3 304.0 558.0 175.0L557.7 46.0"/>
<path d="M1426.0 959.0L1332.5 958.7Q1239.0 958.3 1169.0 957.7Q1099.0 957.1 1062.5 956.5Q1026.0 955.9 985.0 954.4Q944.0 953.0 910.5 952.8Q877.0 952.7 861.0 951.7Q845.0 950.8 820.5 948.0Q796.0 945.2 775.0 943.2Q754.0 941.1 745.5 939.9Q737.0 938.6 729.5 936.8Q722.0 935.0 715.5 932.6Q709.0 930.3 702.8 927.1Q696.7 924.0 691.5 920.5Q686.3 917.0 680.1 912.0Q674.0 907.0 655.9 890.5Q637.8 874.0 634.3 870.5Q630.7 867.0 628.1 864.0Q625.6 861.0 623.0 857.5Q620.5 854.0 615.1 844.5Q609.6 835.0 605.6 826.0Q601.5 817.0 599.0 808.5Q596.5 800.0 595.0 792.5Q593.6 785.0 592.3 775.2Q591.0 765.5 586.6 723.7Q582.1 682.0 580.8 666.0Q579.4 650.0 578.6 631.5Q577.8 613.0 577.5 576.0Q577.2 539.0 576.3 491.5Q575.3 444.0 576.2 374.5Q577.1 305.0 576.8 175.5L576.4 46.0"/>
<path d="M1426.0 940.8L1320.0 940.3Q1214.0 939.8 1127.0 938.9Q1040.0 938.0 1022.0 937.6Q1004.0 937.1 972.0 935.8Q940.0 934.5 910.0 934.0Q880.0 933.5 864.0 932.4Q848.0 931.3 832.0 929.1Q816.0 927.0 791.9 923.0Q767.8 919.0 757.4 916.7Q747.0 914.4 739.0 911.8Q731.0 909.3 726.5 907.4Q722.0 905.5 718.0 903.5Q714.0 901.5 705.5 896.2Q697.0 890.9 687.5 883.5Q678.0 876.1 670.2 868.5Q662.4 861.0 654.8 852.0Q647.2 843.0 641.1 834.6Q635.0 826.1 631.6 819.6Q628.1 813.0 625.6 805.7Q623.0 798.4 620.7 788.7Q618.4 779.0 616.0 765.5Q613.7 752.0 608.3 716.0Q602.8 680.0 600.8 662.0Q598.7 644.0 597.6 623.5Q596.5 603.0 594.5 524.5Q592.6 446.0 592.6 429.5Q592.6 413.0 593.3 359.0Q593.9 305.0 593.5 175.5L593.0 46.0"/>
<path d="M1426.0 923.3L1322.5 922.7Q1219.0 922.1 1122.5 920.9Q1026.0 919.6 1011.0 919.2Q996.0 918.7 967.0 917.2Q938.0 915.7 914.0 914.7Q890.0 913.8 876.0 912.8Q862.0 911.7 848.0 909.6Q834.0 907.4 817.5 903.8Q801.0 900.3 785.0 896.0Q769.0 891.8 757.0 887.7Q745.0 883.6 736.0 879.5Q727.0 875.3 719.5 870.7Q712.0 866.1 704.3 860.1Q696.6 854.0 689.4 847.0Q682.2 840.0 678.7 836.0Q675.2 832.0 672.2 828.0Q669.1 824.0 664.0 816.0Q659.0 808.1 654.5 798.5Q649.9 789.0 645.9 778.0Q641.9 767.0 638.4 754.8Q635.0 742.7 631.9 728.3Q628.9 714.0 626.2 697.5Q623.6 681.0 621.7 664.0Q619.8 647.0 618.9 635.0Q618.0 623.0 617.3 609.0Q616.6 595.0 614.3 520.5Q612.0 446.0 611.9 428.5Q611.9 411.0 612.3 358.5Q612.7 306.0 612.1 176.0L611.6 46.0"/>
<path d="M1426.0 903.7L1328.0 903.0Q1230.0 902.3 1122.5 900.8Q1015.0 899.2 993.0 898.3Q971.0 897.3 933.5 894.9Q896.0 892.5 883.5 891.4Q871.0 890.2 858.0 888.2Q845.0 886.2 831.1 883.1Q817.3 880.0 803.6 876.0Q790.0 872.1 779.0 867.9Q768.0 863.8 758.5 859.2Q749.0 854.6 740.5 849.3Q732.0 844.1 724.0 837.8Q716.0 831.6 709.0 824.9Q702.0 818.1 695.8 810.5Q689.6 803.0 684.4 795.0Q679.3 787.0 674.8 778.0Q670.4 769.0 666.6 759.0Q662.9 749.0 659.2 736.0Q655.5 723.0 651.9 706.5Q648.3 690.0 645.5 673.5Q642.6 657.0 640.7 640.5Q638.7 624.0 637.4 606.5Q636.0 589.0 634.3 557.0Q632.6 525.0 631.5 502.5Q630.4 480.0 629.9 462.5Q629.4 445.0 629.3 427.0Q629.1 409.0 629.5 358.0Q629.8 307.0 629.1 176.5L628.3 46.0"/>
<path d="M1426.0 884.5L1328.5 883.8Q1231.0 883.0 1121.0 881.2Q1011.0 879.4 999.0 878.9Q987.0 878.4 975.0 877.6Q963.0 876.8 939.5 874.8Q916.0 872.8 902.5 871.4Q889.0 870.0 876.0 868.1Q863.0 866.1 850.5 863.4Q838.0 860.7 825.0 856.9Q812.0 853.1 800.5 848.8Q789.0 844.5 779.5 840.0Q770.0 835.4 761.5 830.2Q753.0 825.0 745.5 819.2Q738.0 813.4 731.1 806.7Q724.2 800.0 718.0 792.5Q711.8 785.0 706.2 776.5Q700.7 768.0 695.8 758.7Q691.0 749.3 686.8 739.2Q682.7 729.0 678.8 717.0Q675.0 705.0 671.8 692.0Q668.6 679.0 666.1 665.5Q663.6 652.0 661.8 637.5Q660.0 623.0 658.6 605.5Q657.2 588.0 654.7 548.0Q652.3 508.0 651.4 490.5Q650.5 473.0 650.0 458.0Q649.5 443.0 649.4 426.0Q649.3 409.0 649.6 358.5Q650.0 308.0 649.1 177.0L648.1 46.0"/>
<path d="M180.0 46.0L179.5 146.8Q179.1 247.5 179.3 275.6Q179.6 303.7 180.2 332.8Q180.8 361.8 183.4 440.3Q185.9 518.7 187.6 560.3Q189.3 601.9 191.4 639.7Q193.6 677.4 196.3 712.2Q199.1 747.0 202.0 774.9Q204.9 802.8 208.4 829.7Q212.0 856.5 216.2 882.4Q220.4 908.3 224.3 927.4Q228.2 946.4 232.1 960.5Q235.9 974.5 240.1 986.3Q244.3 998.2 248.9 1008.7Q253.6 1019.3 263.4 1038.9L273.2 1058.4M295.2 1096.5L300.8 1102.9Q306.3 1109.4 329.2 1131.8Q352.0 1154.2 358.0 1159.1Q364.0 1164.1 371.8 1169.9Q379.6 1175.7 385.9 1180.1Q392.2 1184.6 398.8 1188.7Q405.3 1192.9 422.0 1202.7Q438.8 1212.5 447.5 1216.6Q456.2 1220.8 490.0 1232.7Q523.8 1244.7 539.5 1249.7Q555.2 1254.7 569.3 1258.4Q583.3 1262.1 598.5 1265.4Q613.6 1268.7 640.3 1273.4Q667.0 1278.1 682.4 1280.4Q697.7 1282.7 723.8 1285.0Q749.8 1287.4 790.2 1292.6Q830.5 1297.8 858.5 1300.6Q886.4 1303.5 912.5 1305.4Q938.6 1307.4 984.3 1309.7L1030.0 1312.0"/>
<path d="M162.5 46.0L162.6 141.8Q162.7 237.5 163.2 271.3Q163.7 305.1 164.7 339.9Q165.7 374.6 168.1 438.4Q170.6 502.1 172.9 550.0Q175.1 597.9 177.7 638.7Q180.2 679.5 183.0 713.4Q185.8 747.3 188.6 773.1Q191.4 798.9 194.8 824.6Q198.3 850.3 204.3 889.9Q210.4 929.6 214.0 948.5Q217.6 967.4 220.7 979.2Q223.8 990.9 227.6 1001.8Q231.4 1012.8 240.8 1035.2Q250.3 1057.6 256.2 1070.3Q262.2 1083.1 268.9 1095.0Q275.5 1106.9 282.7 1117.7Q289.8 1128.5 292.8 1132.3Q295.8 1136.2 299.1 1139.8Q302.3 1143.4 310.1 1150.8Q317.9 1158.1 325.6 1164.2Q333.2 1170.2 341.7 1176.0Q350.2 1181.8 367.9 1192.7Q385.5 1203.6 404.5 1215.7Q423.4 1227.7 429.1 1231.0Q434.8 1234.2 439.8 1236.6Q444.9 1239.0 454.1 1242.2Q463.4 1245.4 509.4 1258.3Q555.5 1271.3 572.6 1275.7Q589.8 1280.0 606.2 1283.6Q622.6 1287.2 644.0 1291.1Q665.5 1294.9 685.6 1298.0Q705.7 1301.1 719.4 1302.6Q733.0 1304.2 772.4 1308.1L811.8 1312.0"/>
<path d="M159.0 539.4L160.8 573.0Q162.6 606.5 164.5 637.0Q166.5 667.5 168.4 692.8Q170.3 718.2 172.5 741.4Q174.7 764.5 177.1 786.3Q179.6 808.1 182.7 831.6Q185.9 855.0 190.6 886.6Q195.3 918.1 198.4 935.9Q201.6 953.7 204.5 967.1Q207.5 980.5 210.9 992.2Q214.3 1004.0 218.4 1015.8Q222.5 1027.7 231.2 1050.4Q239.9 1073.2 243.4 1081.2Q246.8 1089.3 250.1 1095.9Q253.3 1102.6 263.1 1119.8Q272.8 1137.0 276.2 1142.5Q279.6 1148.0 283.4 1153.0Q287.2 1157.9 291.8 1162.8Q296.4 1167.6 301.4 1172.0Q306.4 1176.4 312.4 1180.7Q318.4 1185.1 326.9 1190.4Q335.5 1195.8 358.6 1208.9Q381.6 1222.1 400.3 1233.8Q419.0 1245.5 424.3 1248.4Q429.6 1251.3 434.7 1253.6Q439.7 1255.9 444.7 1257.7Q449.6 1259.4 455.4 1261.1Q461.2 1262.7 478.5 1266.8Q495.7 1270.8 524.9 1278.3Q554.0 1285.7 571.7 1289.9Q589.3 1294.2 612.3 1298.9Q635.3 1303.7 660.7 1307.8L686.1 1312.0"/>
<path d="M159.0 733.5L162.7 771.9Q166.4 810.3 170.1 840.6Q173.8 871.0 175.7 883.3Q177.6 895.6 179.6 906.7Q181.7 917.9 183.7 927.3Q185.8 936.7 188.3 946.7Q190.9 956.7 194.7 969.8Q198.5 982.9 203.4 998.3Q208.4 1013.8 218.9 1044.2Q229.5 1074.6 234.2 1087.4Q238.9 1100.2 242.1 1107.0Q245.2 1113.8 250.5 1123.2Q255.9 1132.5 261.1 1142.4Q266.4 1152.3 269.0 1156.6Q271.6 1160.9 274.3 1164.6Q277.1 1168.4 281.5 1173.4Q286.0 1178.5 290.6 1183.0Q295.2 1187.5 300.2 1191.6Q305.2 1195.7 310.2 1199.3Q315.3 1202.8 336.3 1215.1Q357.2 1227.3 380.4 1240.3Q403.7 1253.2 411.6 1257.4Q419.5 1261.6 425.9 1264.5Q432.3 1267.5 439.2 1270.0Q446.1 1272.5 454.5 1274.7Q462.9 1276.9 512.5 1288.5Q562.1 1300.0 577.6 1303.3Q593.2 1306.6 607.6 1309.3L622.0 1312.0"/>
<path d="M159.0 869.9L161.9 886.6Q164.8 903.4 166.5 910.9Q168.3 918.4 170.3 925.6Q172.3 932.8 175.6 942.7Q179.0 952.7 189.6 981.9Q200.3 1011.2 216.6 1061.1Q233.0 1111.1 235.3 1116.3Q237.6 1121.5 242.8 1130.4Q248.0 1139.3 255.4 1153.5Q262.7 1167.7 266.5 1173.0Q270.2 1178.2 276.3 1185.3Q282.5 1192.4 288.2 1198.1Q293.9 1203.8 299.5 1208.4Q305.1 1213.0 327.9 1227.1Q350.7 1241.3 356.3 1244.4Q362.0 1247.6 369.0 1251.2Q376.0 1254.7 399.0 1265.2Q422.0 1275.8 430.6 1279.0Q439.2 1282.3 447.8 1284.7Q456.3 1287.2 491.3 1295.4Q526.3 1303.6 546.6 1307.8L566.8 1312.0"/>
<path d="M159.0 926.9L162.7 937.2Q166.4 947.4 175.7 969.6Q185.1 991.7 189.0 1001.9Q192.9 1012.2 198.0 1028.2Q203.2 1044.2 213.3 1077.7Q223.3 1111.1 225.4 1117.0Q227.5 1122.8 229.3 1126.3Q231.0 1129.9 236.0 1138.3Q241.0 1146.7 246.5 1157.7Q251.9 1168.6 254.3 1172.8Q256.6 1177.0 260.8 1182.8Q265.0 1188.6 271.7 1196.4Q278.3 1204.1 284.4 1210.2Q290.5 1216.3 296.4 1220.9Q302.2 1225.5 324.9 1240.0Q347.5 1254.5 352.6 1257.4Q357.8 1260.3 363.5 1263.1Q369.3 1266.0 392.2 1275.6Q415.0 1285.2 426.5 1289.4Q438.1 1293.7 447.2 1296.2Q456.3 1298.8 483.9 1305.4L511.5 1312.0"/>
<path d="M159.0 954.1L168.1 974.7Q177.2 995.4 181.3 1006.3Q185.5 1017.2 190.5 1033.3Q195.6 1049.3 204.8 1081.5Q214.1 1113.7 216.5 1120.5Q218.8 1127.3 221.0 1131.7Q223.1 1136.1 228.6 1145.4Q234.2 1154.7 241.2 1168.5Q248.2 1182.3 251.1 1186.9Q254.1 1191.5 257.9 1196.4Q261.7 1201.4 270.0 1210.3Q278.3 1219.3 285.1 1225.3Q291.9 1231.3 314.9 1246.5Q337.9 1261.8 344.3 1265.6Q350.7 1269.5 356.1 1272.3Q361.4 1275.1 367.7 1278.0Q374.0 1280.8 396.0 1289.8Q418.1 1298.7 428.3 1302.4Q438.6 1306.0 449.5 1309.0L460.3 1312.0"/>
<path d="M159.0 976.4L164.8 989.6Q170.6 1002.9 174.5 1013.7Q178.4 1024.5 184.0 1042.8Q189.5 1061.1 196.1 1085.1Q202.7 1109.1 206.5 1120.3Q210.2 1131.5 212.6 1136.6Q215.0 1141.6 221.3 1152.1Q227.5 1162.6 234.3 1176.0Q241.1 1189.3 243.8 1193.6Q246.4 1197.8 249.7 1202.3Q252.9 1206.8 255.6 1209.9Q258.2 1213.0 264.2 1219.3Q270.2 1225.6 277.6 1232.2Q284.9 1238.8 288.9 1241.7Q292.9 1244.6 316.1 1260.0Q339.2 1275.3 345.9 1279.1Q352.6 1283.0 360.0 1286.6Q367.4 1290.2 394.3 1301.1L421.1 1312.0"/>
<path d="M159.0 998.8L162.2 1007.2Q165.5 1015.5 168.6 1025.0Q171.8 1034.5 177.1 1052.7Q182.5 1070.9 187.5 1090.0Q192.5 1109.2 196.7 1121.3Q200.8 1133.5 203.7 1139.7Q206.6 1145.9 213.0 1156.6Q219.5 1167.3 226.9 1181.7Q234.4 1196.0 240.1 1204.8Q245.9 1213.6 248.3 1216.6Q250.8 1219.6 256.4 1225.2Q262.0 1230.9 270.2 1238.3Q278.3 1245.7 282.6 1248.9Q286.9 1252.1 296.3 1258.2Q305.7 1264.4 316.9 1272.1Q328.0 1279.8 334.6 1284.0Q341.2 1288.3 348.4 1292.2Q355.6 1296.1 363.0 1299.6Q370.4 1303.1 381.0 1307.5L391.7 1312.0"/>
<path d="M159.0 1026.8L166.1 1050.3Q173.1 1073.7 178.1 1093.4Q183.1 1113.0 186.8 1123.1Q190.4 1133.2 192.7 1138.2Q194.9 1143.2 197.3 1147.9Q199.7 1152.5 206.0 1162.9Q212.4 1173.3 220.8 1188.8Q229.1 1204.4 234.5 1212.7Q239.9 1220.9 242.4 1224.0Q244.9 1227.0 252.6 1234.2Q260.2 1241.5 265.0 1245.7Q269.8 1249.9 274.6 1253.6Q279.3 1257.3 306.9 1276.0Q334.4 1294.7 342.1 1299.3Q349.9 1303.8 358.0 1307.9L366.2 1312.0"/>
<path d="M159.0 1061.9L162.6 1074.2Q166.1 1086.5 169.8 1101.7Q173.5 1116.9 174.8 1120.9Q176.1 1124.8 178.0 1129.4Q180.0 1134.0 185.8 1145.1Q191.7 1156.3 198.4 1167.4Q205.2 1178.5 214.3 1194.6Q223.4 1210.8 229.4 1220.0Q235.3 1229.3 237.6 1231.8Q239.9 1234.3 246.3 1239.9Q252.8 1245.6 262.8 1253.7Q272.8 1261.8 299.4 1280.2Q325.9 1298.5 336.6 1305.3L347.4 1312.0"/>
<path d="M159.0 1101.0L161.6 1112.1Q164.3 1123.2 165.6 1126.9Q166.9 1130.6 168.7 1134.4Q170.5 1138.1 173.3 1143.0Q176.1 1147.8 186.5 1164.3Q196.8 1180.8 207.4 1198.7Q218.1 1216.7 224.5 1226.7Q230.9 1236.7 233.6 1239.2Q236.3 1241.8 251.4 1253.3Q266.4 1264.9 300.4 1288.4L334.5 1312.0"/>
<path d="M243.0 46.0L243.5 95.9Q244.1 145.8 245.5 202.5Q247.0 259.2 249.1 313.0Q251.1 366.7 252.2 385.9Q253.2 405.1 254.5 422.2Q255.7 439.2 257.2 455.4Q258.7 471.6 260.4 486.3Q262.1 500.9 264.2 515.4Q266.3 529.8 268.7 543.4Q271.1 556.9 273.2 566.7Q275.3 576.5 277.4 583.8Q279.4 591.0 282.5 598.8Q285.6 606.6 286.5 608.1Q287.4 609.6 288.3 610.3Q289.2 611.0 289.9 610.7Q290.6 610.5 291.5 609.3Q292.4 608.1 299.0 595.6Q305.5 583.1 307.1 579.2Q308.7 575.2 310.2 570.1Q311.6 565.0 313.1 557.0Q314.6 549.1 316.9 533.1Q319.2 517.1 321.1 501.2Q323.0 485.3 324.6 470.0Q326.2 454.7 327.6 437.3Q329.0 419.9 330.1 400.8Q331.3 381.7 333.5 327.5Q335.8 273.3 337.7 210.3Q339.7 147.3 340.3 96.6L341.0 46.0"/>
<path d="M220.0 46.0L220.3 135.9Q220.7 225.8 221.9 295.4Q223.2 364.9 224.4 405.2Q225.6 445.4 226.9 475.8Q228.1 506.3 229.5 529.1Q230.9 551.9 232.6 571.9Q234.4 592.0 236.7 611.4Q239.1 630.9 242.0 648.6Q244.9 666.3 247.8 680.2Q250.6 694.0 256.0 716.7Q261.5 739.4 264.8 757.8Q268.0 776.2 269.6 783.1Q271.2 790.0 272.5 794.0Q273.8 798.1 275.2 801.5Q276.6 805.0 278.4 808.3Q280.1 811.6 282.0 814.3Q283.8 817.0 286.5 820.1Q289.1 823.2 291.3 825.1Q293.6 827.1 295.5 828.2Q297.4 829.2 299.3 829.6Q301.3 830.0 302.8 829.7Q304.3 829.4 305.7 828.7Q307.2 828.0 309.0 826.6Q310.9 825.2 312.6 823.5Q314.2 821.8 317.2 817.6Q320.1 813.5 322.9 807.8Q325.7 802.0 331.4 788.5Q337.0 775.0 340.4 765.2Q343.8 755.3 345.9 746.3Q348.0 737.3 349.4 726.5Q350.8 715.8 351.9 700.0Q352.9 684.2 355.0 638.1Q357.1 591.9 361.2 523.5Q365.3 455.1 366.9 418.7Q368.5 382.3 369.6 344.8Q370.6 307.3 371.6 260.5Q372.5 213.8 373.1 171.4Q373.6 129.0 373.8 87.5L374.0 46.0"/>
<path d="M200.0 46.0L200.2 96.0Q200.5 146.1 201.5 245.2Q202.4 344.4 203.3 395.0Q204.1 445.6 205.0 473.9Q206.0 502.3 207.3 531.9Q208.7 561.6 210.7 597.3Q212.8 633.0 214.7 660.6Q216.6 688.2 218.5 709.8Q220.5 731.3 222.7 750.7Q225.0 770.1 227.6 788.2Q230.3 806.2 233.4 822.8Q236.5 839.4 240.1 854.5Q243.6 869.6 247.6 883.3Q251.6 896.9 256.1 909.6Q260.7 922.3 265.4 932.9L270.2 943.5M292.5 981.3L298.1 989.2Q303.8 997.0 306.5 999.9Q309.3 1002.8 311.9 1004.9Q314.5 1007.0 317.5 1008.8Q320.4 1010.6 323.7 1012.0Q327.0 1013.4 330.4 1014.1Q333.9 1014.9 336.6 1015.0Q339.3 1015.1 341.2 1014.7Q343.1 1014.4 345.4 1013.4Q347.7 1012.3 349.8 1010.7Q351.9 1009.1 353.7 1007.1Q355.5 1005.0 357.1 1002.7Q358.7 1000.3 360.4 997.0Q362.2 993.8 363.9 989.8Q365.6 985.7 367.2 981.2Q368.8 976.6 370.8 968.8Q372.7 961.0 374.6 949.9Q376.5 938.8 378.4 924.0Q380.2 909.2 381.7 893.1Q383.2 877.0 384.6 855.4Q385.9 833.9 390.2 743.9L394.5 653.9M396.7 610.1L399.2 559.5Q401.7 509.0 402.9 471.9Q404.1 434.8 406.2 278.3Q408.4 121.8 408.7 83.9L409.0 46.0"/>
<path d="M196.0 46.0L196.3 84.3Q196.7 122.6 198.2 204.5Q199.8 286.4 200.7 355.5Q201.7 424.6 203.3 478.7Q204.8 532.7 207.4 588.3Q210.0 643.8 212.1 677.3Q214.2 710.8 216.8 739.1Q219.5 767.5 221.1 780.2Q222.8 792.9 224.6 804.8Q226.4 816.7 231.2 841.9Q236.1 867.0 239.3 881.7Q242.6 896.3 245.6 908.2Q248.5 920.0 250.7 927.6Q253.0 935.1 255.1 941.2Q257.2 947.2 259.7 953.1Q262.2 959.0 264.8 964.0Q267.4 969.1 272.3 977.0Q277.1 984.9 285.5 997.2Q293.9 1009.6 298.8 1015.8Q303.6 1022.0 308.9 1027.8Q314.2 1033.6 317.8 1037.0Q321.4 1040.4 325.1 1043.5Q328.9 1046.6 337.8 1052.9Q346.7 1059.1 352.0 1062.0Q357.3 1064.8 359.4 1065.5Q361.4 1066.1 363.5 1066.3Q365.5 1066.6 368.2 1066.1Q370.9 1065.7 373.5 1064.4Q376.1 1063.1 378.4 1061.2Q380.6 1059.2 382.8 1056.3Q385.0 1053.3 386.2 1050.7Q387.3 1048.0 388.0 1045.3Q388.7 1042.5 389.6 1033.1Q390.4 1023.8 390.8 1009.6Q391.2 995.4 391.7 948.4Q392.2 901.4 392.8 880.7Q393.4 860.1 397.9 754.7Q402.5 649.4 406.2 575.4Q409.9 501.5 411.0 472.3Q412.1 443.1 412.6 417.5Q413.1 391.8 414.7 261.5Q416.4 131.1 416.7 88.6L417.0 46.0"/>
<path d="M1426.0 1113.5L1187.0 1117.6Q947.9 1121.7 915.4 1122.9Q882.8 1124.0 812.1 1127.4Q741.3 1130.9 663.0 1133.7Q584.6 1136.5 573.5 1137.3Q562.4 1138.1 553.0 1139.3Q543.5 1140.4 535.5 1142.0Q527.5 1143.5 518.4 1145.9Q509.3 1148.2 504.4 1149.8Q499.6 1151.5 496.7 1153.1Q493.8 1154.8 492.5 1156.0Q491.3 1157.3 490.7 1158.3Q490.1 1159.3 489.6 1161.6Q489.1 1164.0 489.6 1167.3Q490.0 1170.6 491.7 1174.6Q493.3 1178.5 495.5 1181.8Q497.7 1185.2 500.8 1188.4Q503.9 1191.7 508.4 1195.4Q512.9 1199.1 517.8 1202.4Q522.7 1205.6 527.9 1208.3Q533.1 1210.9 539.7 1213.6Q546.3 1216.4 575.3 1226.5Q604.3 1236.6 610.5 1238.5Q616.7 1240.4 622.3 1241.8Q628.0 1243.2 638.2 1245.3Q648.4 1247.4 676.0 1252.2Q703.6 1257.1 735.1 1262.0Q766.6 1266.9 793.1 1270.2Q819.6 1273.4 848.1 1276.3Q876.5 1279.1 902.5 1281.0Q928.5 1283.0 955.8 1284.3Q983.1 1285.6 1041.6 1287.8Q1100.1 1290.0 1132.0 1290.8Q1163.9 1291.5 1200.3 1291.9Q1236.7 1292.3 1331.4 1292.7L1426.0 1293.0"/>
<path d="M1426.0 1122.5L1311.0 1123.7M1259.0 1124.6L1113.6 1127.8Q968.2 1130.9 931.8 1132.0Q895.4 1133.2 866.9 1134.4L838.4 1135.7M786.6 1138.9L761.7 1141.1Q736.7 1143.3 706.6 1146.4Q676.5 1149.6 660.8 1151.7Q645.1 1153.7 631.8 1156.1Q618.5 1158.5 611.5 1160.2Q604.5 1161.8 597.8 1163.7Q591.1 1165.7 583.2 1168.4Q575.4 1171.1 567.3 1174.2Q559.2 1177.4 557.0 1178.7Q554.9 1180.0 553.7 1181.2Q552.6 1182.4 552.1 1183.9Q551.6 1185.4 551.7 1187.1Q551.9 1188.8 552.7 1191.2Q553.6 1193.7 555.3 1196.6Q557.0 1199.5 559.3 1202.4Q561.7 1205.4 564.2 1207.8Q566.8 1210.3 571.0 1213.7Q575.2 1217.1 579.3 1219.8Q583.3 1222.6 586.6 1224.2Q589.8 1225.9 593.8 1227.3Q597.8 1228.8 611.4 1232.1Q625.0 1235.5 645.9 1241.8Q666.8 1248.1 676.8 1250.3Q686.8 1252.5 697.0 1254.0Q707.2 1255.5 730.2 1258.1Q753.2 1260.8 794.1 1266.0Q835.0 1271.2 853.1 1272.9Q871.3 1274.6 893.1 1276.1Q914.9 1277.7 954.8 1279.9Q994.8 1282.2 1021.5 1283.2Q1048.2 1284.2 1117.4 1285.0Q1186.5 1285.8 1306.3 1285.9L1426.0 1286.0"/>
<path d="M1426.0 1155.0L1408.1 1155.3Q1390.2 1155.7 1306.6 1158.1Q1223.0 1160.6 1170.9 1162.4Q1118.7 1164.2 1046.9 1167.8Q975.1 1171.4 930.6 1174.2Q886.1 1177.1 877.6 1178.0Q869.1 1178.9 862.0 1180.1Q854.9 1181.4 836.8 1186.2Q818.6 1191.1 807.0 1193.6Q795.3 1196.1 792.4 1197.4Q789.5 1198.6 787.3 1200.2Q785.1 1201.9 783.4 1204.1Q781.6 1206.3 781.1 1208.4Q780.5 1210.5 781.1 1212.5Q781.6 1214.5 783.1 1216.4Q784.5 1218.3 786.8 1220.2Q789.2 1222.1 792.5 1224.0Q795.8 1225.9 799.6 1227.4Q803.3 1228.9 824.2 1235.3Q845.1 1241.8 849.5 1242.8Q853.9 1243.8 858.8 1244.4Q863.7 1245.1 879.4 1246.3Q895.2 1247.5 915.7 1249.6Q936.3 1251.7 963.2 1253.1Q990.2 1254.5 1018.0 1256.6Q1045.8 1258.6 1066.9 1259.4Q1088.0 1260.1 1134.8 1260.8Q1181.5 1261.5 1303.8 1262.2L1426.0 1263.0"/>
<path d="M1414.6 1194.5L1413.2 1194.0Q1411.9 1193.4 1410.1 1193.2Q1408.3 1193.0 1402.2 1193.3Q1396.1 1193.7 1384.8 1195.0Q1373.4 1196.4 1351.9 1199.4Q1330.5 1202.5 1321.5 1203.4Q1312.5 1204.2 1305.3 1204.3Q1298.2 1204.4 1283.9 1203.6Q1269.6 1202.8 1262.5 1203.2Q1255.3 1203.6 1248.9 1205.0Q1242.4 1206.3 1235.9 1208.7Q1229.4 1211.1 1226.6 1212.5Q1223.9 1213.9 1221.8 1215.3Q1219.7 1216.6 1218.6 1217.8Q1217.4 1218.9 1217.1 1219.9Q1216.8 1220.9 1217.4 1221.9Q1218.0 1222.9 1219.7 1223.8Q1221.4 1224.7 1224.0 1225.4Q1226.7 1226.2 1229.7 1226.6Q1232.8 1227.0 1237.7 1227.0Q1242.5 1226.9 1250.4 1225.7Q1258.3 1224.5 1261.1 1224.6Q1263.9 1224.8 1266.9 1225.8Q1269.8 1226.7 1276.8 1230.0Q1283.8 1233.4 1287.3 1234.3Q1290.8 1235.2 1295.1 1235.0Q1299.3 1234.9 1309.4 1232.7Q1319.4 1230.4 1323.9 1230.1Q1328.4 1229.7 1333.5 1230.6Q1338.6 1231.5 1348.2 1234.8Q1357.7 1238.1 1361.7 1239.1Q1365.8 1240.1 1370.8 1240.6Q1375.9 1241.0 1381.6 1240.5Q1387.4 1240.1 1400.1 1237.7Q1412.8 1235.2 1415.4 1234.0Q1417.9 1232.9 1419.4 1231.3Q1420.9 1229.7 1421.6 1227.9Q1422.3 1226.0 1422.6 1223.7Q1422.9 1221.4 1422.9 1217.1Q1422.9 1212.9 1422.7 1209.8Q1422.4 1206.8 1421.8 1204.8Q1421.3 1202.8 1420.5 1201.2Q1419.7 1199.6 1418.6 1198.1Q1417.5 1196.7 1416.0 1195.6L1414.6 1194.5"/>
</g></g></g>
<g font-size="29.5" fill="#1e1e1e" text-anchor="middle">
<text transform="translate(538.5 214.0) rotate(-90) scale(1 1.04)" y="10.3">30</text>
<text transform="translate(509.0 278.0) rotate(-90) scale(1 1.04)" y="10.3">25</text>
<text transform="translate(476.0 354.0) rotate(-90) scale(1 1.04)" y="10.3">20</text>
<text transform="translate(440.5 442.0) rotate(-90) scale(1 1.04)" y="10.3">15</text>
<text transform="translate(395.7 632.0) rotate(-90) scale(1 1.04)" y="10.3">10</text>
<text transform="translate(539.0 686.0) rotate(90) scale(1 1.04)" y="10.3">30</text>
<text transform="translate(510.5 750.0) rotate(90) scale(1 1.04)" y="10.3">25</text>
<text transform="translate(477.0 831.5) rotate(90) scale(1 1.04)" y="10.3">20</text>
<text transform="translate(440.5 918.0) rotate(90) scale(1 1.04)" y="10.3">15</text>
<text transform="translate(282.0 962.0) rotate(60) scale(1 1.04)" y="10.3">10</text>
<text transform="translate(285.0 1077.0) rotate(55) scale(1 1.04)" y="10.3">15</text>
<text transform="translate(282.5 1140.0) rotate(55) scale(1 1.04)" y="10.3">20</text>
<text transform="translate(812.0 991.5) rotate(0) scale(1 1.04)" y="10.3">30</text>
<text transform="translate(812.0 1024.0) rotate(0) scale(1 1.04)" y="10.3">25</text>
<text transform="translate(812.0 1058.0) rotate(0) scale(1 1.04)" y="10.3">20</text>
<text transform="translate(812.0 1094.5) rotate(0) scale(1 1.04)" y="10.3">15</text>
<text transform="translate(812.5 1137.0) rotate(0) scale(1 1.04)" y="10.3">10</text>
<text transform="translate(1285.0 995.5) rotate(0) scale(1 1.04)" y="10.3">30</text>
<text transform="translate(1285.0 1025.5) rotate(0) scale(1 1.04)" y="10.3">25</text>
<text transform="translate(1285.0 1057.5) rotate(0) scale(1 1.04)" y="10.3">20</text>
<text transform="translate(1285.0 1088.0) rotate(0) scale(1 1.04)" y="10.3">15</text>
<text transform="translate(1285.0 1124.0) rotate(0) scale(1 1.04)" y="10.3">10</text>
</g>
<g stroke="#555" stroke-width="2" fill="none"><rect x="160.2" y="46.5" width="1263.3" height="1265.3"/></g>
<path stroke="#777" stroke-width="2" fill="none" d="M160.2 1311.8h-17M1423.5 1311.8h16M160.2 1185.3h-17M1423.5 1185.3h16M160.2 1058.7h-17M1423.5 1058.7h16M160.2 932.2h-17M1423.5 932.2h16M160.2 805.7h-17M1423.5 805.7h16M160.2 679.1h-17M1423.5 679.1h16M160.2 552.6h-17M1423.5 552.6h16M160.2 426.1h-17M1423.5 426.1h16M160.2 299.6h-17M1423.5 299.6h16M160.2 173.0h-17M1423.5 173.0h16M160.2 46.5h-17M1423.5 46.5h16M223.3 1311.8v16M223.3 46.5v-16M349.6 1311.8v16M349.6 46.5v-16M476.0 1311.8v16M476.0 46.5v-16M602.3 1311.8v16M602.3 46.5v-16M728.7 1311.8v16M728.7 46.5v-16M855.0 1311.8v16M855.0 46.5v-16M981.3 1311.8v16M981.3 46.5v-16M1107.7 1311.8v16M1107.7 46.5v-16M1234.0 1311.8v16M1234.0 46.5v-16M1360.4 1311.8v16M1360.4 46.5v-16"/>
<g font-size="47.5" fill="#111">
<text transform="translate(140 1327.4) scale(1 1.04)" text-anchor="end">0.6</text>
<text transform="translate(140 1200.9) scale(1 1.04)" text-anchor="end">0.8</text>
<text transform="translate(140 1074.3) scale(1 1.04)" text-anchor="end">1</text>
<text transform="translate(140 947.8) scale(1 1.04)" text-anchor="end">1.2</text>
<text transform="translate(140 821.3) scale(1 1.04)" text-anchor="end">1.4</text>
<text transform="translate(140 694.8) scale(1 1.04)" text-anchor="end">1.6</text>
<text transform="translate(140 568.2) scale(1 1.04)" text-anchor="end">1.8</text>
<text transform="translate(140 441.7) scale(1 1.04)" text-anchor="end">2</text>
<text transform="translate(140 315.2) scale(1 1.04)" text-anchor="end">2.2</text>
<text transform="translate(140 188.6) scale(1 1.04)" text-anchor="end">2.4</text>
<text transform="translate(140 62.1) scale(1 1.04)" text-anchor="end">2.6</text>
<text transform="translate(223.3 1372.4) scale(1 1.04)" text-anchor="middle">1</text>
<text transform="translate(349.6 1372.4) scale(1 1.04)" text-anchor="middle">1.2</text>
<text transform="translate(476.0 1372.4) scale(1 1.04)" text-anchor="middle">1.4</text>
<text transform="translate(602.3 1372.4) scale(1 1.04)" text-anchor="middle">1.6</text>
<text transform="translate(728.7 1372.4) scale(1 1.04)" text-anchor="middle">1.8</text>
<text transform="translate(855.0 1372.4) scale(1 1.04)" text-anchor="middle">2</text>
<text transform="translate(981.3 1372.4) scale(1 1.04)" text-anchor="middle">2.2</text>
<text transform="translate(1107.7 1372.4) scale(1 1.04)" text-anchor="middle">2.4</text>
<text transform="translate(1234.0 1372.4) scale(1 1.04)" text-anchor="middle">2.6</text>
<text transform="translate(1360.4 1372.4) scale(1 1.04)" text-anchor="middle">2.8</text>
</g>
<text transform="translate(758 1435.7) scale(1 1.04)" font-size="65.5" text-anchor="middle" fill="#111">C-H (Å)</text>
<text transform="translate(72.5 639) rotate(-90) scale(1 1.02)" font-size="56.5" text-anchor="middle" fill="#111">H-X (Å)</text>
<g font-size="58" fill="#111">
<text transform="translate(762 193.6) scale(1 1.04)">X + C<tspan font-size="40" dy="15">2</tspan><tspan dy="-15" dx="-1">H</tspan><tspan font-size="40" dy="15" dx="-2">6</tspan></text>
<text transform="translate(1088 193.6) scale(1 1.04)">HX + C<tspan font-size="40" dy="15" dx="-0.5">2</tspan><tspan dy="-15" dx="-3">H</tspan><tspan font-size="40" dy="15" dx="-2">5</tspan></text>
</g>
<path d="M1012 171.7h34" stroke="#888" stroke-width="2.5"/><path d="M1042 162.5L1065 171.7L1042 181z" fill="#111"/>
<path d="M413.3 1108.3L413.3 1096.8M413.3 1108.3L424.2 1104.7M413.3 1108.3L402.4 1104.7M413.3 1108.3L420.1 1117.6M413.3 1108.3L406.5 1117.6" stroke="#f2061c" stroke-width="5" stroke-linecap="butt" fill="none"/>
</svg></body></html>
